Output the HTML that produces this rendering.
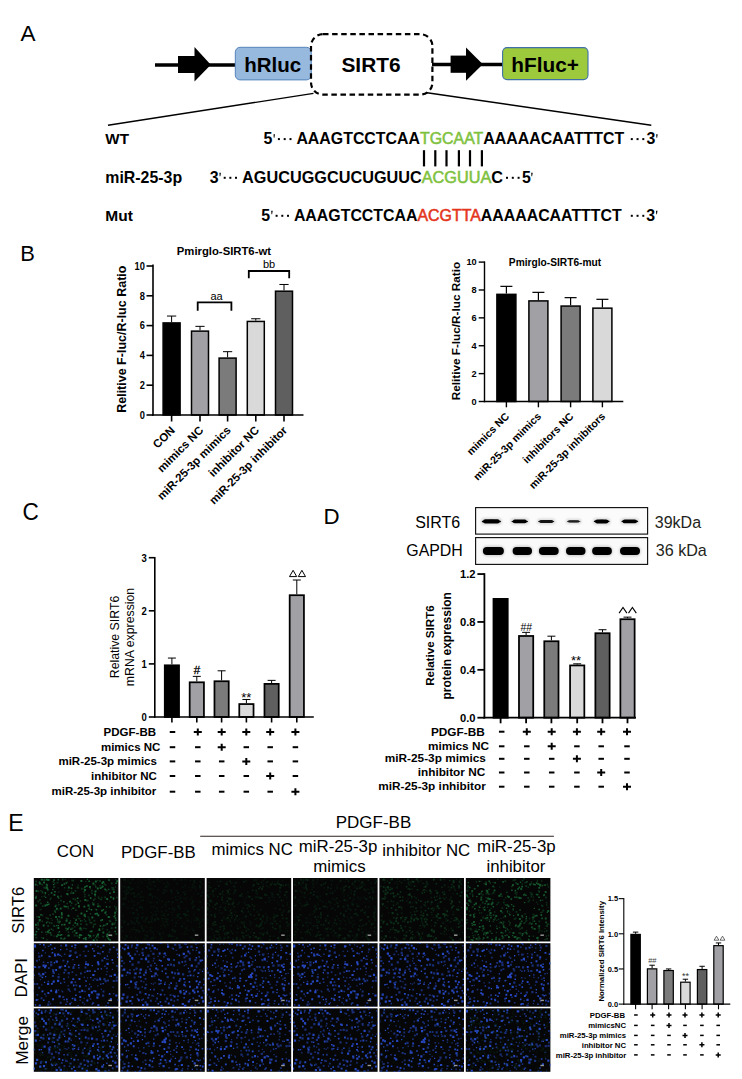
<!DOCTYPE html>
<html><head><meta charset="utf-8"><style>
html,body{margin:0;padding:0;background:#fff;}
body{width:742px;height:1079px;overflow:hidden;}
svg{display:block;}
text{font-family:"Liberation Sans",sans-serif;}
</style></head><body>
<svg width="742" height="1079" viewBox="0 0 742 1079">
<text x="20.50" y="41.30" font-size="22.5" >A</text>
<line x1="155.00" y1="65.00" x2="235.00" y2="65.00" stroke="#000" stroke-width="3.5" />
<rect x="178" y="56" width="17" height="17" fill="#000"/>
<polygon points="194.5,47 210.8,64.8 194.5,81.5" fill="#000"/>
<rect x="235.3" y="47.3" width="76" height="32.6" rx="4.8" fill="#97b9de" stroke="#5584bb" stroke-width="1"/>
<text x="244.20" y="72.00" font-size="20.5" font-weight="bold" >hRluc</text>
<line x1="432.00" y1="64.50" x2="503.00" y2="64.50" stroke="#000" stroke-width="3.5" />
<rect x="450.6" y="55.6" width="16" height="17.2" fill="#000"/>
<polygon points="466,47.6 482.8,64.3 466,80.8" fill="#000"/>
<rect x="502.6" y="47.6" width="85.4" height="32" rx="4.5" fill="#9dca3c" stroke="#3f70a8" stroke-width="1.1"/>
<text x="511.30" y="71.70" font-size="20.8" font-weight="bold" >hFluc+</text>
<rect x="311" y="34.2" width="121.4" height="60.4" rx="12" fill="none" stroke="#000" stroke-width="2.2" stroke-dasharray="5.5 3.6"/>
<text x="341.40" y="72.10" font-size="20.9" font-weight="bold" >SIRT6</text>
<line x1="108.00" y1="125.30" x2="313.50" y2="93.40" stroke="#000" stroke-width="1.4" />
<line x1="427.00" y1="92.70" x2="651.30" y2="125.30" stroke="#000" stroke-width="1.4" />
<text x="105.30" y="144.40" font-size="15.2" font-weight="bold" >WT</text>
<text x="105.30" y="183.00" font-size="15.9" font-weight="bold" >miR-25-3p</text>
<text x="105.30" y="220.90" font-size="15.5" font-weight="bold" >Mut</text>
<text x="263.60" y="144.40" font-size="15.9" font-weight="bold" >5</text>
<path d="M273.50 134.20h1.5l-0.55 3.5h-0.7z" fill="#000"/>
<rect x="277.90" y="138.10" width="2" height="2" fill="#000"/>
<rect x="283.70" y="138.10" width="2" height="2" fill="#000"/>
<rect x="289.50" y="138.10" width="2" height="2" fill="#000"/>
<text x="296.4" y="144.4" font-size="15.9" font-weight="bold">AAAGTCCTCAA<tspan fill="#80c240" style="color:#80c240" font-weight="normal" stroke-width="0.55" stroke="currentColor">TGCAAT</tspan>AAAAACAATTTCT</text>
<rect x="630.80" y="138.10" width="2" height="2" fill="#000"/>
<rect x="636.55" y="138.10" width="2" height="2" fill="#000"/>
<rect x="642.30" y="138.10" width="2" height="2" fill="#000"/>
<text x="646.40" y="144.40" font-size="15.9" font-weight="bold" >3</text>
<path d="M656.20 134.20h1.5l-0.55 3.5h-0.7z" fill="#000"/>
<rect x="422.90" y="150.2" width="2.2" height="16.2" fill="#000"/>
<rect x="434.20" y="150.2" width="2.2" height="16.2" fill="#000"/>
<rect x="445.40" y="150.2" width="2.2" height="16.2" fill="#000"/>
<rect x="457.80" y="150.2" width="2.2" height="16.2" fill="#000"/>
<rect x="468.90" y="150.2" width="2.2" height="16.2" fill="#000"/>
<rect x="480.80" y="150.2" width="2.2" height="16.2" fill="#000"/>
<text x="209.80" y="183.00" font-size="15.9" font-weight="bold" >3</text>
<path d="M219.40 172.80h1.5l-0.55 3.5h-0.7z" fill="#000"/>
<rect x="223.70" y="176.80" width="2" height="2" fill="#000"/>
<rect x="229.35" y="176.80" width="2" height="2" fill="#000"/>
<rect x="235.00" y="176.80" width="2" height="2" fill="#000"/>
<text x="242.1" y="183" font-size="16.25" font-weight="bold">AGUCUGGCUCUGUUC<tspan fill="#80c240" style="color:#80c240" font-weight="normal" stroke-width="0.55" stroke="currentColor">ACGUUA</tspan>C</text>
<rect x="506.00" y="176.80" width="2" height="2" fill="#000"/>
<rect x="511.80" y="176.80" width="2" height="2" fill="#000"/>
<rect x="517.60" y="176.80" width="2" height="2" fill="#000"/>
<text x="522.10" y="183.00" font-size="15.9" font-weight="bold" >5</text>
<path d="M531.20 172.80h1.5l-0.55 3.5h-0.7z" fill="#000"/>
<text x="261.30" y="220.90" font-size="15.9" font-weight="bold" >5</text>
<path d="M271.20 210.70h1.5l-0.55 3.5h-0.7z" fill="#000"/>
<rect x="275.60" y="214.80" width="2" height="2" fill="#000"/>
<rect x="281.30" y="214.80" width="2" height="2" fill="#000"/>
<rect x="287.00" y="214.80" width="2" height="2" fill="#000"/>
<text x="293.9" y="220.9" font-size="15.9" font-weight="bold">AAAGTCCTCAA<tspan fill="#e4351c" style="color:#e4351c" font-weight="normal" stroke-width="0.55" stroke="currentColor">ACGTTA</tspan>AAAAACAATTTCT</text>
<rect x="630.80" y="214.80" width="2" height="2" fill="#000"/>
<rect x="636.55" y="214.80" width="2" height="2" fill="#000"/>
<rect x="642.30" y="214.80" width="2" height="2" fill="#000"/>
<text x="646.20" y="220.90" font-size="15.9" font-weight="bold" >3</text>
<path d="M656.00 210.70h1.5l-0.55 3.5h-0.7z" fill="#000"/>
<g>
<text x="0" y="0" transform="translate(20.30,261.20) scale(1.02,1)" font-size="21.5" >B</text>
<line x1="171.60" y1="322.17" x2="171.60" y2="316.06" stroke="#000" stroke-width="1.0" />
<line x1="166.97" y1="316.06" x2="176.22" y2="316.06" stroke="#000" stroke-width="1.0" />
<rect x="163.10" y="322.92" width="17.00" height="92.08" fill="#000" stroke="#000" stroke-width="1.5"/>
<line x1="200.00" y1="330.37" x2="200.00" y2="326.35" stroke="#000" stroke-width="1.0" />
<line x1="195.38" y1="326.35" x2="204.62" y2="326.35" stroke="#000" stroke-width="1.0" />
<rect x="191.50" y="331.12" width="17.00" height="83.88" fill="#a0a0a5" stroke="#000" stroke-width="1.5"/>
<line x1="227.60" y1="357.34" x2="227.60" y2="351.68" stroke="#000" stroke-width="1.0" />
<line x1="222.97" y1="351.68" x2="232.22" y2="351.68" stroke="#000" stroke-width="1.0" />
<rect x="219.10" y="358.09" width="17.00" height="56.91" fill="#7b7b7b" stroke="#000" stroke-width="1.5"/>
<line x1="255.80" y1="320.68" x2="255.80" y2="318.75" stroke="#000" stroke-width="1.0" />
<line x1="251.18" y1="318.75" x2="260.43" y2="318.75" stroke="#000" stroke-width="1.0" />
<rect x="247.30" y="321.43" width="17.00" height="93.57" fill="#d9d9d9" stroke="#000" stroke-width="1.5"/>
<line x1="284.00" y1="290.44" x2="284.00" y2="284.48" stroke="#000" stroke-width="1.0" />
<line x1="279.38" y1="284.48" x2="288.62" y2="284.48" stroke="#000" stroke-width="1.0" />
<rect x="275.50" y="291.19" width="17.00" height="123.81" fill="#5f5f5f" stroke="#000" stroke-width="1.5"/>
<line x1="153.00" y1="264.40" x2="153.00" y2="415.80" stroke="#000" stroke-width="1.6" />
<line x1="152.20" y1="415.00" x2="303.50" y2="415.00" stroke="#000" stroke-width="1.6" />
<line x1="146.50" y1="415.00" x2="153.00" y2="415.00" stroke="#000" stroke-width="1.6" />
<text x="0" y="0" transform="translate(144.80,418.89) scale(0.86,1)" font-size="10.8" font-weight="bold" text-anchor="end" >0</text>
<line x1="146.50" y1="385.20" x2="153.00" y2="385.20" stroke="#000" stroke-width="1.6" />
<text x="0" y="0" transform="translate(144.80,389.09) scale(0.86,1)" font-size="10.8" font-weight="bold" text-anchor="end" >2</text>
<line x1="146.50" y1="355.40" x2="153.00" y2="355.40" stroke="#000" stroke-width="1.6" />
<text x="0" y="0" transform="translate(144.80,359.29) scale(0.86,1)" font-size="10.8" font-weight="bold" text-anchor="end" >4</text>
<line x1="146.50" y1="325.60" x2="153.00" y2="325.60" stroke="#000" stroke-width="1.6" />
<text x="0" y="0" transform="translate(144.80,329.49) scale(0.86,1)" font-size="10.8" font-weight="bold" text-anchor="end" >6</text>
<line x1="146.50" y1="295.80" x2="153.00" y2="295.80" stroke="#000" stroke-width="1.6" />
<text x="0" y="0" transform="translate(144.80,299.69) scale(0.86,1)" font-size="10.8" font-weight="bold" text-anchor="end" >8</text>
<line x1="146.50" y1="266.00" x2="153.00" y2="266.00" stroke="#000" stroke-width="1.6" />
<text x="0" y="0" transform="translate(144.80,269.89) scale(0.86,1)" font-size="10.8" font-weight="bold" text-anchor="end" >10</text>
<line x1="171.60" y1="415.00" x2="171.60" y2="421.50" stroke="#000" stroke-width="1.6" />
<line x1="200.00" y1="415.00" x2="200.00" y2="421.50" stroke="#000" stroke-width="1.6" />
<line x1="227.60" y1="415.00" x2="227.60" y2="421.50" stroke="#000" stroke-width="1.6" />
<line x1="255.80" y1="415.00" x2="255.80" y2="421.50" stroke="#000" stroke-width="1.6" />
<line x1="284.00" y1="415.00" x2="284.00" y2="421.50" stroke="#000" stroke-width="1.6" />
<text x="223.90" y="254.80" font-size="11.3" font-weight="bold" text-anchor="middle" >Pmirglo-SIRT6-wt</text>
<text x="0" y="0" font-size="12.5" font-weight="bold" text-anchor="middle" transform="translate(125.5,339.2) rotate(-90)">Relitive F-luc/R-luc Ratio</text>
<polyline points="197.7,310.7 197.7,302.4 231.4,302.4 231.4,310.7" fill="none" stroke="#000" stroke-width="1.8"/>
<text x="216.50" y="299.70" font-size="11" text-anchor="middle" >aa</text>
<polyline points="248.8,278.3 248.8,271 289.2,271 289.2,278.3" fill="none" stroke="#000" stroke-width="1.8"/>
<text x="269.00" y="268.30" font-size="11" text-anchor="middle" >bb</text>
<text x="0" y="0" font-size="11.5" font-weight="bold" text-anchor="end" transform="translate(175.6,431.0) rotate(-45)">CON</text>
<text x="0" y="0" font-size="11.5" font-weight="bold" text-anchor="end" transform="translate(204.0,431.0) rotate(-45)">mimics NC</text>
<text x="0" y="0" font-size="11.5" font-weight="bold" text-anchor="end" transform="translate(231.6,431.0) rotate(-45)">miR-25-3p mimics</text>
<text x="0" y="0" font-size="11.5" font-weight="bold" text-anchor="end" transform="translate(259.8,431.0) rotate(-45)">inhibitor NC</text>
<text x="0" y="0" font-size="11.5" font-weight="bold" text-anchor="end" transform="translate(288.0,431.0) rotate(-45)">miR-25-3p inhibitor</text>
</g>
<line x1="506.40" y1="293.60" x2="506.40" y2="286.36" stroke="#000" stroke-width="1.2" />
<line x1="500.40" y1="286.36" x2="512.40" y2="286.36" stroke="#000" stroke-width="1.2" />
<rect x="496.90" y="294.35" width="19.00" height="107.15" fill="#000" stroke="#000" stroke-width="1.5"/>
<line x1="538.40" y1="300.16" x2="538.40" y2="292.35" stroke="#000" stroke-width="1.2" />
<line x1="532.40" y1="292.35" x2="544.40" y2="292.35" stroke="#000" stroke-width="1.2" />
<rect x="528.90" y="300.91" width="19.00" height="100.59" fill="#a0a0a5" stroke="#000" stroke-width="1.5"/>
<line x1="570.60" y1="305.31" x2="570.60" y2="297.65" stroke="#000" stroke-width="1.2" />
<line x1="564.60" y1="297.65" x2="576.60" y2="297.65" stroke="#000" stroke-width="1.2" />
<rect x="561.10" y="306.06" width="19.00" height="95.44" fill="#7b7b7b" stroke="#000" stroke-width="1.5"/>
<line x1="602.40" y1="307.40" x2="602.40" y2="299.32" stroke="#000" stroke-width="1.2" />
<line x1="596.40" y1="299.32" x2="608.40" y2="299.32" stroke="#000" stroke-width="1.2" />
<rect x="592.90" y="308.15" width="19.00" height="93.34" fill="#d9d9d9" stroke="#000" stroke-width="1.5"/>
<line x1="484.50" y1="261.40" x2="484.50" y2="402.20" stroke="#000" stroke-width="1.4" />
<line x1="483.80" y1="401.50" x2="623.30" y2="401.50" stroke="#000" stroke-width="1.4" />
<line x1="478.70" y1="401.50" x2="484.50" y2="401.50" stroke="#000" stroke-width="1.4" />
<text x="476.70" y="404.81" font-size="9.2" font-weight="bold" text-anchor="end" >0</text>
<line x1="478.70" y1="373.62" x2="484.50" y2="373.62" stroke="#000" stroke-width="1.4" />
<text x="476.70" y="376.93" font-size="9.2" font-weight="bold" text-anchor="end" >2</text>
<line x1="478.70" y1="345.74" x2="484.50" y2="345.74" stroke="#000" stroke-width="1.4" />
<text x="476.70" y="349.05" font-size="9.2" font-weight="bold" text-anchor="end" >4</text>
<line x1="478.70" y1="317.86" x2="484.50" y2="317.86" stroke="#000" stroke-width="1.4" />
<text x="476.70" y="321.17" font-size="9.2" font-weight="bold" text-anchor="end" >6</text>
<line x1="478.70" y1="289.98" x2="484.50" y2="289.98" stroke="#000" stroke-width="1.4" />
<text x="476.70" y="293.29" font-size="9.2" font-weight="bold" text-anchor="end" >8</text>
<line x1="478.70" y1="262.10" x2="484.50" y2="262.10" stroke="#000" stroke-width="1.4" />
<text x="476.70" y="265.41" font-size="9.2" font-weight="bold" text-anchor="end" >10</text>
<line x1="506.40" y1="401.50" x2="506.40" y2="407.30" stroke="#000" stroke-width="1.4" />
<line x1="538.40" y1="401.50" x2="538.40" y2="407.30" stroke="#000" stroke-width="1.4" />
<line x1="570.60" y1="401.50" x2="570.60" y2="407.30" stroke="#000" stroke-width="1.4" />
<line x1="602.40" y1="401.50" x2="602.40" y2="407.30" stroke="#000" stroke-width="1.4" />
<text x="555.00" y="265.60" font-size="10.2" font-weight="bold" text-anchor="middle" >Pmirglo-SIRT6-mut</text>
<text x="0" y="0" font-size="11.75" font-weight="bold" text-anchor="middle" transform="translate(459.9,331.1) rotate(-90)">Relitive F-luc/R-luc Ratio</text>
<text x="0" y="0" font-size="10.6" font-weight="bold" text-anchor="end" transform="translate(509.9,417.0) rotate(-45)">mimics NC</text>
<text x="0" y="0" font-size="10.6" font-weight="bold" text-anchor="end" transform="translate(541.9,417.0) rotate(-45)">miR-25-3p mimics</text>
<text x="0" y="0" font-size="10.6" font-weight="bold" text-anchor="end" transform="translate(574.1,417.0) rotate(-45)">inhibitors NC</text>
<text x="0" y="0" font-size="10.6" font-weight="bold" text-anchor="end" transform="translate(605.9,417.0) rotate(-45)">miR-25-3p inhibitors</text>
<text x="0" y="0" transform="translate(22.60,520.00) scale(0.96,1)" font-size="23.5" >C</text>
<line x1="171.90" y1="664.43" x2="171.90" y2="658.06" stroke="#000" stroke-width="1.0" />
<line x1="167.90" y1="658.06" x2="175.90" y2="658.06" stroke="#000" stroke-width="1.0" />
<rect x="164.78" y="665.31" width="14.25" height="51.69" fill="#000" stroke="#000" stroke-width="1.75"/>
<line x1="196.80" y1="681.42" x2="196.80" y2="676.38" stroke="#000" stroke-width="1.0" />
<line x1="192.80" y1="676.38" x2="200.80" y2="676.38" stroke="#000" stroke-width="1.0" />
<rect x="189.68" y="682.30" width="14.25" height="34.70" fill="#a0a0a5" stroke="#000" stroke-width="1.75"/>
<line x1="221.60" y1="680.36" x2="221.60" y2="670.80" stroke="#000" stroke-width="1.0" />
<line x1="217.60" y1="670.80" x2="225.60" y2="670.80" stroke="#000" stroke-width="1.0" />
<rect x="214.47" y="681.24" width="14.25" height="35.76" fill="#7b7b7b" stroke="#000" stroke-width="1.75"/>
<line x1="246.40" y1="703.19" x2="246.40" y2="699.48" stroke="#000" stroke-width="1.0" />
<line x1="242.40" y1="699.48" x2="250.40" y2="699.48" stroke="#000" stroke-width="1.0" />
<rect x="239.28" y="704.07" width="14.25" height="12.93" fill="#d9d9d9" stroke="#000" stroke-width="1.75"/>
<line x1="271.60" y1="683.02" x2="271.60" y2="680.36" stroke="#000" stroke-width="1.0" />
<line x1="267.60" y1="680.36" x2="275.60" y2="680.36" stroke="#000" stroke-width="1.0" />
<rect x="264.48" y="683.89" width="14.25" height="33.11" fill="#5f5f5f" stroke="#000" stroke-width="1.75"/>
<line x1="296.80" y1="594.34" x2="296.80" y2="580.00" stroke="#000" stroke-width="1.0" />
<line x1="292.80" y1="580.00" x2="300.80" y2="580.00" stroke="#000" stroke-width="1.0" />
<rect x="289.68" y="595.21" width="14.25" height="121.79" fill="#a0a0a5" stroke="#000" stroke-width="1.75"/>
<line x1="154.80" y1="557.00" x2="154.80" y2="717.80" stroke="#000" stroke-width="1.6" />
<line x1="154.00" y1="717.00" x2="313.80" y2="717.00" stroke="#000" stroke-width="1.6" />
<line x1="148.80" y1="717.00" x2="154.80" y2="717.00" stroke="#000" stroke-width="1.6" />
<text x="0" y="0" transform="translate(146.80,720.89) scale(0.88,1)" font-size="10.8" font-weight="bold" text-anchor="end" >0</text>
<line x1="148.80" y1="663.90" x2="154.80" y2="663.90" stroke="#000" stroke-width="1.6" />
<text x="0" y="0" transform="translate(146.80,667.79) scale(0.88,1)" font-size="10.8" font-weight="bold" text-anchor="end" >1</text>
<line x1="148.80" y1="610.80" x2="154.80" y2="610.80" stroke="#000" stroke-width="1.6" />
<text x="0" y="0" transform="translate(146.80,614.69) scale(0.88,1)" font-size="10.8" font-weight="bold" text-anchor="end" >2</text>
<line x1="148.80" y1="557.70" x2="154.80" y2="557.70" stroke="#000" stroke-width="1.6" />
<text x="0" y="0" transform="translate(146.80,561.59) scale(0.88,1)" font-size="10.8" font-weight="bold" text-anchor="end" >3</text>
<line x1="171.90" y1="717.00" x2="171.90" y2="722.50" stroke="#000" stroke-width="1.6" />
<line x1="196.80" y1="717.00" x2="196.80" y2="722.50" stroke="#000" stroke-width="1.6" />
<line x1="221.60" y1="717.00" x2="221.60" y2="722.50" stroke="#000" stroke-width="1.6" />
<line x1="246.40" y1="717.00" x2="246.40" y2="722.50" stroke="#000" stroke-width="1.6" />
<line x1="271.60" y1="717.00" x2="271.60" y2="722.50" stroke="#000" stroke-width="1.6" />
<line x1="296.80" y1="717.00" x2="296.80" y2="722.50" stroke="#000" stroke-width="1.6" />
<text x="197.00" y="674.00" font-size="11.5" text-anchor="middle" stroke="#000" stroke-width="0.3">#</text>
<text x="246.30" y="701.50" font-size="13" text-anchor="middle" >**</text>
<polygon points="289.50,576.60 293.10,570.30 296.70,576.60" fill="none" stroke="#000" stroke-width="1.0" stroke-linejoin="miter"/>
<polygon points="298.30,576.60 301.90,570.30 305.50,576.60" fill="none" stroke="#000" stroke-width="1.0" stroke-linejoin="miter"/>
<text x="0" y="0" font-size="12.3" text-anchor="middle" transform="translate(119.3,637) rotate(-90)">Relative SIRT6</text>
<text x="0" y="0" font-size="12.3" text-anchor="middle" transform="translate(134.1,637) rotate(-90)">mRNA expression</text>
<text x="156.00" y="736.00" font-size="11.5" font-weight="bold" text-anchor="end" >PDGF-BB</text>
<text x="160.40" y="750.90" font-size="11.5" font-weight="bold" text-anchor="end" >mimics NC</text>
<text x="156.90" y="765.40" font-size="11.5" font-weight="bold" text-anchor="end" >miR-25-3p mimics</text>
<text x="156.90" y="780.20" font-size="11.5" font-weight="bold" text-anchor="end" >inhibitor NC</text>
<text x="156.30" y="795.20" font-size="11.5" font-weight="bold" text-anchor="end" >miR-25-3p inhibitor</text>
<rect x="169.75" y="731.00" width="5.5" height="2" fill="#000"/>
<path d="M193.80 731.00h8v2h-8zM196.80 728.50h2v7h-2z" fill="#000"/>
<path d="M217.70 731.00h8v2h-8zM220.70 728.50h2v7h-2z" fill="#000"/>
<path d="M242.30 731.00h8v2h-8zM245.30 728.50h2v7h-2z" fill="#000"/>
<path d="M266.20 731.00h8v2h-8zM269.20 728.50h2v7h-2z" fill="#000"/>
<path d="M291.40 731.00h8v2h-8zM294.40 728.50h2v7h-2z" fill="#000"/>
<rect x="169.75" y="746.20" width="5.5" height="2" fill="#000"/>
<rect x="195.05" y="746.20" width="5.5" height="2" fill="#000"/>
<path d="M217.70 746.20h8v2h-8zM220.70 743.70h2v7h-2z" fill="#000"/>
<rect x="243.55" y="746.20" width="5.5" height="2" fill="#000"/>
<rect x="267.45" y="746.20" width="5.5" height="2" fill="#000"/>
<rect x="292.65" y="746.20" width="5.5" height="2" fill="#000"/>
<rect x="169.75" y="760.40" width="5.5" height="2" fill="#000"/>
<rect x="195.05" y="760.40" width="5.5" height="2" fill="#000"/>
<rect x="218.95" y="760.40" width="5.5" height="2" fill="#000"/>
<path d="M242.30 760.40h8v2h-8zM245.30 757.90h2v7h-2z" fill="#000"/>
<rect x="267.45" y="760.40" width="5.5" height="2" fill="#000"/>
<rect x="292.65" y="760.40" width="5.5" height="2" fill="#000"/>
<rect x="169.75" y="775.00" width="5.5" height="2" fill="#000"/>
<rect x="195.05" y="775.00" width="5.5" height="2" fill="#000"/>
<rect x="218.95" y="775.00" width="5.5" height="2" fill="#000"/>
<rect x="243.55" y="775.00" width="5.5" height="2" fill="#000"/>
<path d="M266.20 775.00h8v2h-8zM269.20 772.50h2v7h-2z" fill="#000"/>
<rect x="292.65" y="775.00" width="5.5" height="2" fill="#000"/>
<rect x="169.75" y="790.70" width="5.5" height="2" fill="#000"/>
<rect x="195.05" y="790.70" width="5.5" height="2" fill="#000"/>
<rect x="218.95" y="790.70" width="5.5" height="2" fill="#000"/>
<rect x="243.55" y="790.70" width="5.5" height="2" fill="#000"/>
<rect x="267.45" y="790.70" width="5.5" height="2" fill="#000"/>
<path d="M291.40 790.70h8v2h-8zM294.40 788.20h2v7h-2z" fill="#000"/>
<text x="0" y="0" transform="translate(323.60,524.40) scale(0.97,1)" font-size="23" >D</text>
<text x="460.20" y="528.00" font-size="16" text-anchor="end" >SIRT6</text>
<text x="462.80" y="555.60" font-size="15.9" text-anchor="end" >GAPDH</text>
<text x="654.80" y="527.90" font-size="16" fill="#231f20" >39kDa</text>
<text x="655.80" y="555.70" font-size="16.1" fill="#231f20" >36 kDa</text>
<rect x="475.6" y="507.6" width="172" height="26.5" fill="#fbfbfb" stroke="#111" stroke-width="1.15"/>
<rect x="475.6" y="537.6" width="172" height="26.8" fill="#f9f9f9" stroke="#111" stroke-width="1.15"/>
<defs><filter id="bl" x="-30%" y="-100%" width="160%" height="300%"><feGaussianBlur stdDeviation="0.75"/></filter><filter id="bl2" x="-30%" y="-100%" width="160%" height="300%"><feGaussianBlur stdDeviation="1.2"/></filter></defs>
<rect x="480.7" y="517.80" width="21.4" height="7.20" rx="3.60" fill="#000" opacity="0.12" filter="url(#bl2)"/>
<g opacity="1" filter="url(#bl)"><ellipse cx="491.4" cy="521.4" rx="9.7" ry="1.68" fill="#000"/><rect x="483.2" y="519.30" width="16.4" height="4.20" rx="2.10" fill="#000"/></g>
<rect x="510.4" y="518.10" width="18.7" height="6.60" rx="3.30" fill="#000" opacity="0.12" filter="url(#bl2)"/>
<g opacity="1" filter="url(#bl)"><ellipse cx="519.8" cy="521.4" rx="8.4" ry="1.44" fill="#000"/><rect x="512.9" y="519.60" width="13.7" height="3.60" rx="1.80" fill="#000"/></g>
<rect x="537.0" y="518.40" width="18.5" height="6.00" rx="3.00" fill="#000" opacity="0.12" filter="url(#bl2)"/>
<g opacity="0.9" filter="url(#bl)"><ellipse cx="546.2" cy="521.4" rx="8.2" ry="1.20" fill="#000"/><rect x="539.5" y="519.90" width="13.5" height="3.00" rx="1.50" fill="#000"/></g>
<rect x="565.7" y="518.70" width="15.9" height="5.40" rx="2.70" fill="#000" opacity="0.12" filter="url(#bl2)"/>
<g opacity="0.85" filter="url(#bl)"><ellipse cx="573.7" cy="521.4" rx="6.9" ry="0.96" fill="#000"/><rect x="568.2" y="520.20" width="10.9" height="2.40" rx="1.20" fill="#000"/></g>
<rect x="592.7" y="517.90" width="18.0" height="7.00" rx="3.50" fill="#000" opacity="0.12" filter="url(#bl2)"/>
<g opacity="1" filter="url(#bl)"><ellipse cx="601.7" cy="521.4" rx="8.0" ry="1.60" fill="#000"/><rect x="595.2" y="519.40" width="13.0" height="4.00" rx="2.00" fill="#000"/></g>
<rect x="620.3" y="518.00" width="18.9" height="6.80" rx="3.40" fill="#000" opacity="0.12" filter="url(#bl2)"/>
<g opacity="1" filter="url(#bl)"><ellipse cx="629.8" cy="521.4" rx="8.5" ry="1.52" fill="#000"/><rect x="622.8" y="519.50" width="13.9" height="3.80" rx="1.90" fill="#000"/></g>
<rect x="481.9" y="545.5" width="23.0" height="11" rx="5.5" fill="#000" opacity="0.15" filter="url(#bl2)"/>
<rect x="482.9" y="547" width="21.0" height="8" rx="4" fill="#000" filter="url(#bl)"/>
<rect x="511.6" y="545.5" width="21.4" height="11" rx="5.5" fill="#000" opacity="0.15" filter="url(#bl2)"/>
<rect x="512.6" y="547" width="19.4" height="8" rx="4" fill="#000" filter="url(#bl)"/>
<rect x="537.9" y="545.5" width="21.8" height="11" rx="5.5" fill="#000" opacity="0.15" filter="url(#bl2)"/>
<rect x="538.9" y="547" width="19.8" height="8" rx="4" fill="#000" filter="url(#bl)"/>
<rect x="565.0" y="545.5" width="21.5" height="11" rx="5.5" fill="#000" opacity="0.15" filter="url(#bl2)"/>
<rect x="566.0" y="547" width="19.5" height="8" rx="4" fill="#000" filter="url(#bl)"/>
<rect x="591.1" y="545.5" width="21.8" height="11" rx="5.5" fill="#000" opacity="0.15" filter="url(#bl2)"/>
<rect x="592.1" y="547" width="19.8" height="8" rx="4" fill="#000" filter="url(#bl)"/>
<rect x="619.0" y="545.5" width="22.0" height="11" rx="5.5" fill="#000" opacity="0.15" filter="url(#bl2)"/>
<rect x="620.0" y="547" width="20.0" height="8" rx="4" fill="#000" filter="url(#bl)"/>
<rect x="493.48" y="598.88" width="14.25" height="118.83" fill="#000" stroke="#000" stroke-width="1.75"/>
<line x1="526.10" y1="635.11" x2="526.10" y2="632.35" stroke="#000" stroke-width="1.0" />
<line x1="522.10" y1="632.35" x2="530.10" y2="632.35" stroke="#000" stroke-width="1.0" />
<rect x="518.98" y="635.98" width="14.25" height="81.72" fill="#a0a0a5" stroke="#000" stroke-width="1.75"/>
<line x1="551.40" y1="640.37" x2="551.40" y2="636.18" stroke="#000" stroke-width="1.0" />
<line x1="547.40" y1="636.18" x2="555.40" y2="636.18" stroke="#000" stroke-width="1.0" />
<rect x="544.27" y="641.25" width="14.25" height="76.45" fill="#7b7b7b" stroke="#000" stroke-width="1.75"/>
<line x1="577.20" y1="664.55" x2="577.20" y2="663.84" stroke="#000" stroke-width="1.0" />
<line x1="573.20" y1="663.84" x2="581.20" y2="663.84" stroke="#000" stroke-width="1.0" />
<rect x="570.08" y="665.43" width="14.25" height="52.27" fill="#d9d9d9" stroke="#000" stroke-width="1.75"/>
<line x1="602.50" y1="632.35" x2="602.50" y2="629.72" stroke="#000" stroke-width="1.0" />
<line x1="598.50" y1="629.72" x2="606.50" y2="629.72" stroke="#000" stroke-width="1.0" />
<rect x="595.38" y="633.23" width="14.25" height="84.47" fill="#5f5f5f" stroke="#000" stroke-width="1.75"/>
<line x1="627.50" y1="618.35" x2="627.50" y2="617.15" stroke="#000" stroke-width="1.0" />
<line x1="623.50" y1="617.15" x2="631.50" y2="617.15" stroke="#000" stroke-width="1.0" />
<rect x="620.38" y="619.22" width="14.25" height="98.48" fill="#a0a0a5" stroke="#000" stroke-width="1.75"/>
<line x1="484.40" y1="573.20" x2="484.40" y2="718.60" stroke="#000" stroke-width="1.8" />
<line x1="483.50" y1="717.70" x2="636.00" y2="717.70" stroke="#000" stroke-width="1.8" />
<line x1="477.40" y1="717.70" x2="484.40" y2="717.70" stroke="#000" stroke-width="1.8" />
<text x="475.60" y="721.73" font-size="11.2" font-weight="bold" text-anchor="end" >0.0</text>
<line x1="477.40" y1="669.82" x2="484.40" y2="669.82" stroke="#000" stroke-width="1.8" />
<text x="475.60" y="673.85" font-size="11.2" font-weight="bold" text-anchor="end" >0.4</text>
<line x1="477.40" y1="621.94" x2="484.40" y2="621.94" stroke="#000" stroke-width="1.8" />
<text x="475.60" y="625.97" font-size="11.2" font-weight="bold" text-anchor="end" >0.8</text>
<line x1="477.40" y1="574.06" x2="484.40" y2="574.06" stroke="#000" stroke-width="1.8" />
<text x="475.60" y="578.09" font-size="11.2" font-weight="bold" text-anchor="end" >1.2</text>
<line x1="500.60" y1="717.70" x2="500.60" y2="723.30" stroke="#000" stroke-width="1.8" />
<line x1="526.10" y1="717.70" x2="526.10" y2="723.30" stroke="#000" stroke-width="1.8" />
<line x1="551.40" y1="717.70" x2="551.40" y2="723.30" stroke="#000" stroke-width="1.8" />
<line x1="577.20" y1="717.70" x2="577.20" y2="723.30" stroke="#000" stroke-width="1.8" />
<line x1="602.50" y1="717.70" x2="602.50" y2="723.30" stroke="#000" stroke-width="1.8" />
<line x1="627.50" y1="717.70" x2="627.50" y2="723.30" stroke="#000" stroke-width="1.8" />
<text x="526.30" y="630.60" font-size="10.5" text-anchor="middle" >##</text>
<text x="576.10" y="665.30" font-size="13" text-anchor="middle" >**</text>
<polyline points="619.10,613.10 623.00,607.50 626.90,613.10" fill="none" stroke="#000" stroke-width="1.1"/>
<polyline points="628.50,613.10 632.40,607.50 636.30,613.10" fill="none" stroke="#000" stroke-width="1.1"/>
<text x="0" y="0" font-size="11.6" font-weight="bold" text-anchor="middle" transform="translate(434.2,645.6) rotate(-90)">Relative SIRT6</text>
<text x="0" y="0" font-size="12" font-weight="bold" text-anchor="middle" transform="translate(451.1,645.8) rotate(-90)">protein expression</text>
<text x="484.70" y="735.80" font-size="11.8" font-weight="bold" text-anchor="end" >PDGF-BB</text>
<text x="489.00" y="749.80" font-size="11.8" font-weight="bold" text-anchor="end" >mimics NC</text>
<text x="485.80" y="762.40" font-size="11.8" font-weight="bold" text-anchor="end" >miR-25-3p mimics</text>
<text x="485.20" y="776.40" font-size="11.8" font-weight="bold" text-anchor="end" >inhibitor NC</text>
<text x="485.80" y="789.90" font-size="11.8" font-weight="bold" text-anchor="end" >miR-25-3p inhibitor</text>
<rect x="498.95" y="730.70" width="5.5" height="2" fill="#000"/>
<path d="M522.80 730.70h8v2h-8zM525.80 728.20h2v7h-2z" fill="#000"/>
<path d="M547.70 730.70h8v2h-8zM550.70 728.20h2v7h-2z" fill="#000"/>
<path d="M572.90 730.70h8v2h-8zM575.90 728.20h2v7h-2z" fill="#000"/>
<path d="M597.20 730.70h8v2h-8zM600.20 728.20h2v7h-2z" fill="#000"/>
<path d="M623.00 730.70h8v2h-8zM626.00 728.20h2v7h-2z" fill="#000"/>
<rect x="498.95" y="745.30" width="5.5" height="2" fill="#000"/>
<rect x="524.05" y="745.30" width="5.5" height="2" fill="#000"/>
<path d="M547.70 745.30h8v2h-8zM550.70 742.80h2v7h-2z" fill="#000"/>
<rect x="574.15" y="745.30" width="5.5" height="2" fill="#000"/>
<rect x="598.45" y="745.30" width="5.5" height="2" fill="#000"/>
<rect x="624.25" y="745.30" width="5.5" height="2" fill="#000"/>
<rect x="498.95" y="757.80" width="5.5" height="2" fill="#000"/>
<rect x="524.05" y="757.80" width="5.5" height="2" fill="#000"/>
<rect x="548.95" y="757.80" width="5.5" height="2" fill="#000"/>
<path d="M572.90 757.80h8v2h-8zM575.90 755.30h2v7h-2z" fill="#000"/>
<rect x="598.45" y="757.80" width="5.5" height="2" fill="#000"/>
<rect x="624.25" y="757.80" width="5.5" height="2" fill="#000"/>
<rect x="498.95" y="771.50" width="5.5" height="2" fill="#000"/>
<rect x="524.05" y="771.50" width="5.5" height="2" fill="#000"/>
<rect x="548.95" y="771.50" width="5.5" height="2" fill="#000"/>
<rect x="574.15" y="771.50" width="5.5" height="2" fill="#000"/>
<path d="M597.20 771.50h8v2h-8zM600.20 769.00h2v7h-2z" fill="#000"/>
<rect x="624.25" y="771.50" width="5.5" height="2" fill="#000"/>
<rect x="498.95" y="785.70" width="5.5" height="2" fill="#000"/>
<rect x="524.05" y="785.70" width="5.5" height="2" fill="#000"/>
<rect x="548.95" y="785.70" width="5.5" height="2" fill="#000"/>
<rect x="574.15" y="785.70" width="5.5" height="2" fill="#000"/>
<rect x="598.45" y="785.70" width="5.5" height="2" fill="#000"/>
<path d="M623.00 785.70h8v2h-8zM626.00 783.20h2v7h-2z" fill="#000"/>
<text x="8.20" y="830.80" font-size="23" >E</text>
<text x="0" y="0" transform="translate(75.50,857.00) scale(1.04,1)" font-size="16.2" text-anchor="middle" >CON</text>
<text x="0" y="0" transform="translate(158.30,858.00) scale(1.04,1)" font-size="16.2" text-anchor="middle" >PDGF-BB</text>
<text x="0" y="0" transform="translate(252.20,855.00) scale(1.04,1)" font-size="16.2" text-anchor="middle" >mimics NC</text>
<text x="0" y="0" transform="translate(338.00,852.40) scale(1.04,1)" font-size="16.2" text-anchor="middle" >miR-25-3p</text>
<text x="0" y="0" transform="translate(339.50,872.30) scale(1.04,1)" font-size="16.2" text-anchor="middle" >mimics</text>
<text x="0" y="0" transform="translate(426.30,856.20) scale(1.04,1)" font-size="16.2" text-anchor="middle" >inhibitor NC</text>
<text x="0" y="0" transform="translate(516.40,852.40) scale(1.04,1)" font-size="16.2" text-anchor="middle" >miR-25-3p</text>
<text x="0" y="0" transform="translate(515.90,872.30) scale(1.04,1)" font-size="16.2" text-anchor="middle" >inhibitor</text>
<text x="0" y="0" transform="translate(373.50,828.00) scale(1.05,1)" font-size="16.2" text-anchor="middle" >PDGF-BB</text>
<line x1="200.20" y1="836.20" x2="553.90" y2="836.20" stroke="#2b2220" stroke-width="1.1" />
<text x="0" y="0" font-size="16" text-anchor="middle" transform="translate(23.6,910.3) rotate(-90) scale(1.045,1)">SIRT6</text>
<text x="0" y="0" font-size="16" text-anchor="middle" transform="translate(26.9,977.7) rotate(-90) scale(1.06,1)">DAPI</text>
<text x="0" y="0" font-size="16" text-anchor="middle" transform="translate(27.8,1040.4) rotate(-90) scale(1.08,1)">Merge</text>
<defs><filter id="mb" x="0" y="0" width="100%" height="100%"><feGaussianBlur stdDeviation="0.45"/></filter>
<g id="dp0"><path d="M14.0 2.3h1.6v1.6h-1.6zM26.5 1.6h1.6v1.6h-1.6zM29.4 -1.1h1.6v1.6h-1.6zM55.9 0.6h1.9v1.9h-1.9zM60.9 1.1h1.3v1.3h-1.3zM74.9 0.2h1.3v1.3h-1.3zM0.1 2.6h2.2v2.2h-2.2zM10.7 3.2h1.3v1.3h-1.3zM32.1 5.3h1.6v1.6h-1.6zM40.4 3.5h1.9v1.9h-1.9zM52.5 2.4h1.3v1.3h-1.3zM63.4 2.5h1.6v1.6h-1.6zM66.4 3.8h1.6v1.6h-1.6zM75.1 5.2h2.2v2.2h-2.2zM82.1 5.4h2.2v2.2h-2.2zM-1.2 6.9h1.6v1.6h-1.6zM4.2 9.4h1.3v1.3h-1.3zM10.9 9.0h1.3v1.3h-1.3zM30.1 10.3h1.6v1.6h-1.6zM35.6 6.8h2.2v2.2h-2.2zM40.7 8.4h2.2v2.2h-2.2zM49.5 7.5h1.3v1.3h-1.3zM53.9 7.4h1.3v1.3h-1.3zM59.3 6.9h1.9v1.9h-1.9zM65.3 9.6h1.6v1.6h-1.6zM74.8 8.3h1.3v1.3h-1.3zM4.4 12.3h2.2v2.2h-2.2zM14.3 12.2h1.9v1.9h-1.9zM27.1 12.6h1.3v1.3h-1.3zM36.6 11.2h1.6v1.6h-1.6zM45.5 11.3h1.6v1.6h-1.6zM50.7 11.7h2.2v2.2h-2.2zM2.2 16.6h1.9v1.9h-1.9zM4.9 15.9h1.3v1.3h-1.3zM9.0 18.3h1.6v1.6h-1.6zM16.3 18.0h2.2v2.2h-2.2zM28.7 16.5h1.9v1.9h-1.9zM38.5 15.8h1.3v1.3h-1.3zM51.4 17.9h1.6v1.6h-1.6zM67.4 16.2h2.2v2.2h-2.2zM72.0 15.2h1.3v1.3h-1.3zM73.6 15.6h1.3v1.3h-1.3zM4.1 22.8h2.2v2.2h-2.2zM16.3 20.9h2.2v2.2h-2.2zM26.6 22.5h1.9v1.9h-1.9zM32.4 20.0h1.3v1.3h-1.3zM39.1 22.8h1.6v1.6h-1.6zM70.3 22.3h1.6v1.6h-1.6zM82.1 21.8h1.9v1.9h-1.9zM5.4 22.9h1.3v1.3h-1.3zM14.1 24.0h1.9v1.9h-1.9zM18.2 25.8h2.2v2.2h-2.2zM30.4 25.8h2.2v2.2h-2.2zM34.1 22.9h1.9v1.9h-1.9zM38.5 23.6h2.2v2.2h-2.2zM44.2 23.7h1.6v1.6h-1.6zM50.7 23.3h1.9v1.9h-1.9zM55.2 26.9h1.9v1.9h-1.9zM63.3 24.9h1.9v1.9h-1.9zM72.1 24.2h1.9v1.9h-1.9zM78.0 25.6h1.3v1.3h-1.3zM83.9 24.1h2.2v2.2h-2.2zM4.2 29.5h2.2v2.2h-2.2zM10.8 28.5h1.6v1.6h-1.6zM18.9 28.6h2.2v2.2h-2.2zM24.3 30.6h1.3v1.3h-1.3zM33.8 28.8h2.2v2.2h-2.2zM37.8 28.1h1.6v1.6h-1.6zM41.7 31.0h1.6v1.6h-1.6zM46.2 29.3h1.9v1.9h-1.9zM50.3 28.2h1.6v1.6h-1.6zM72.0 30.8h1.3v1.3h-1.3zM72.6 27.7h1.3v1.3h-1.3zM84.2 28.1h2.2v2.2h-2.2zM-0.1 31.4h1.3v1.3h-1.3zM5.7 31.3h2.2v2.2h-2.2zM18.1 31.7h2.2v2.2h-2.2zM23.7 32.8h2.2v2.2h-2.2zM29.2 34.8h1.9v1.9h-1.9zM34.1 33.2h1.3v1.3h-1.3zM49.9 33.4h1.3v1.3h-1.3zM53.1 34.0h1.3v1.3h-1.3zM60.5 34.9h1.3v1.3h-1.3zM69.6 34.9h2.2v2.2h-2.2zM75.3 32.1h1.6v1.6h-1.6zM82.1 33.4h1.9v1.9h-1.9zM6.0 35.8h1.3v1.3h-1.3zM13.7 37.6h1.6v1.6h-1.6zM18.5 37.6h2.2v2.2h-2.2zM29.9 38.3h1.6v1.6h-1.6zM40.7 38.1h1.6v1.6h-1.6zM51.3 36.9h1.9v1.9h-1.9zM58.7 36.3h1.6v1.6h-1.6zM62.4 35.6h2.2v2.2h-2.2zM70.8 36.9h2.2v2.2h-2.2zM73.3 36.3h1.9v1.9h-1.9zM78.9 36.7h2.2v2.2h-2.2zM81.7 36.4h2.2v2.2h-2.2zM-0.2 39.8h1.9v1.9h-1.9zM2.5 39.8h1.9v1.9h-1.9zM7.3 41.0h1.3v1.3h-1.3zM33.8 41.8h1.3v1.3h-1.3zM41.6 41.2h1.9v1.9h-1.9zM51.3 41.9h1.6v1.6h-1.6zM55.2 40.4h1.3v1.3h-1.3zM56.6 42.7h1.6v1.6h-1.6zM63.4 42.1h1.3v1.3h-1.3zM4.4 43.6h1.9v1.9h-1.9zM24.2 46.2h1.3v1.3h-1.3zM27.6 47.2h1.3v1.3h-1.3zM33.8 45.2h2.2v2.2h-2.2zM35.6 47.4h1.3v1.3h-1.3zM40.1 45.1h2.2v2.2h-2.2zM54.1 44.5h2.2v2.2h-2.2zM59.2 46.7h2.2v2.2h-2.2zM66.8 45.6h1.3v1.3h-1.3zM68.7 47.4h1.9v1.9h-1.9zM78.7 43.4h1.3v1.3h-1.3zM2.8 50.9h1.6v1.6h-1.6zM28.2 48.1h1.3v1.3h-1.3zM44.9 47.9h1.9v1.9h-1.9zM50.4 47.5h1.6v1.6h-1.6zM62.4 50.1h2.2v2.2h-2.2zM68.2 51.4h2.2v2.2h-2.2zM79.2 49.8h1.3v1.3h-1.3zM6.8 54.1h1.9v1.9h-1.9zM11.6 52.3h1.3v1.3h-1.3zM28.5 52.9h1.9v1.9h-1.9zM40.1 54.6h1.9v1.9h-1.9zM49.7 54.6h1.3v1.3h-1.3zM55.9 55.0h1.6v1.6h-1.6zM3.5 55.7h1.3v1.3h-1.3zM25.9 58.6h1.9v1.9h-1.9zM32.6 57.7h1.6v1.6h-1.6zM36.8 58.7h1.3v1.3h-1.3zM45.7 56.4h1.3v1.3h-1.3zM48.2 58.5h1.6v1.6h-1.6zM58.5 58.9h1.9v1.9h-1.9zM73.3 58.9h1.9v1.9h-1.9zM8.3 63.8h1.9v1.9h-1.9zM13.4 60.4h2.2v2.2h-2.2zM16.1 60.0h1.3v1.3h-1.3zM43.6 61.7h1.6v1.6h-1.6zM50.0 60.2h1.3v1.3h-1.3zM52.7 63.8h1.3v1.3h-1.3zM66.4 63.8h1.9v1.9h-1.9zM71.6 62.1h1.6v1.6h-1.6zM80.1 62.5h1.3v1.3h-1.3z" opacity="0.55"/><path d="M0.1 1.4h2.2v2.2h-2.2zM5.6 0.4h1.3v1.3h-1.3zM9.2 0.9h1.6v1.6h-1.6zM16.1 0.8h1.6v1.6h-1.6zM31.2 1.0h2.2v2.2h-2.2zM37.4 2.2h1.6v1.6h-1.6zM40.6 1.0h1.9v1.9h-1.9zM43.6 -1.3h1.9v1.9h-1.9zM50.9 2.0h2.2v2.2h-2.2zM68.8 1.5h1.9v1.9h-1.9zM79.1 -1.3h1.6v1.6h-1.6zM17.5 5.4h1.3v1.3h-1.3zM20.2 4.2h1.6v1.6h-1.6zM26.2 5.7h1.3v1.3h-1.3zM58.3 4.9h1.3v1.3h-1.3zM79.1 3.2h1.6v1.6h-1.6zM8.3 6.5h1.6v1.6h-1.6zM17.8 8.8h1.6v1.6h-1.6zM20.3 10.1h1.3v1.3h-1.3zM23.3 10.2h2.2v2.2h-2.2zM63.4 9.3h1.6v1.6h-1.6zM68.3 7.7h1.6v1.6h-1.6zM83.3 9.9h1.3v1.3h-1.3zM7.2 11.6h1.6v1.6h-1.6zM15.6 12.7h1.3v1.3h-1.3zM20.2 11.2h2.2v2.2h-2.2zM25.6 11.5h1.3v1.3h-1.3zM34.9 11.6h2.2v2.2h-2.2zM42.4 13.1h1.6v1.6h-1.6zM59.9 11.7h1.9v1.9h-1.9zM70.0 14.1h1.6v1.6h-1.6zM73.0 12.3h1.3v1.3h-1.3zM83.3 13.4h1.3v1.3h-1.3zM13.5 18.7h1.3v1.3h-1.3zM21.8 17.4h2.2v2.2h-2.2zM33.1 17.6h1.6v1.6h-1.6zM63.1 18.1h2.2v2.2h-2.2zM77.7 15.9h1.6v1.6h-1.6zM-0.2 22.7h1.9v1.9h-1.9zM8.7 21.4h2.2v2.2h-2.2zM11.1 21.6h1.9v1.9h-1.9zM19.9 18.9h1.3v1.3h-1.3zM30.4 21.8h1.9v1.9h-1.9zM39.9 20.7h1.6v1.6h-1.6zM44.1 21.3h1.6v1.6h-1.6zM51.2 20.0h1.9v1.9h-1.9zM53.1 20.3h2.2v2.2h-2.2zM57.8 21.7h1.3v1.3h-1.3zM63.8 20.1h1.9v1.9h-1.9zM72.7 19.5h2.2v2.2h-2.2zM78.6 19.0h1.3v1.3h-1.3zM1.2 23.5h1.3v1.3h-1.3zM10.2 23.2h1.9v1.9h-1.9zM21.4 25.9h1.9v1.9h-1.9zM24.9 23.1h2.2v2.2h-2.2zM66.9 25.1h1.3v1.3h-1.3zM-1.5 27.9h1.6v1.6h-1.6zM8.3 29.8h2.2v2.2h-2.2zM18.7 27.8h1.3v1.3h-1.3zM29.7 28.9h1.3v1.3h-1.3zM52.8 27.0h1.9v1.9h-1.9zM58.5 30.7h2.2v2.2h-2.2zM60.3 27.3h1.6v1.6h-1.6zM79.9 30.6h2.2v2.2h-2.2zM7.8 33.5h1.6v1.6h-1.6zM11.2 32.8h1.3v1.3h-1.3zM38.5 35.0h1.9v1.9h-1.9zM44.7 34.9h1.9v1.9h-1.9zM56.4 33.7h1.3v1.3h-1.3zM65.5 34.2h1.3v1.3h-1.3zM76.9 32.4h1.3v1.3h-1.3zM-1.4 35.9h1.6v1.6h-1.6zM10.1 38.6h1.3v1.3h-1.3zM19.3 37.4h1.6v1.6h-1.6zM23.2 36.5h2.2v2.2h-2.2zM36.7 38.1h2.2v2.2h-2.2zM65.5 35.2h1.9v1.9h-1.9zM13.2 39.7h2.2v2.2h-2.2zM17.2 39.7h1.9v1.9h-1.9zM26.3 39.4h1.3v1.3h-1.3zM39.1 41.4h1.6v1.6h-1.6zM45.1 42.1h1.9v1.9h-1.9zM66.3 40.2h1.3v1.3h-1.3zM68.7 39.7h1.3v1.3h-1.3zM-1.5 46.5h1.6v1.6h-1.6zM7.7 47.2h1.9v1.9h-1.9zM16.4 46.6h1.9v1.9h-1.9zM21.8 46.2h1.6v1.6h-1.6zM47.4 46.6h1.9v1.9h-1.9zM47.6 47.0h1.9v1.9h-1.9zM61.0 47.4h1.6v1.6h-1.6zM-1.5 48.0h1.3v1.3h-1.3zM10.5 50.2h1.3v1.3h-1.3zM13.6 48.9h1.9v1.9h-1.9zM21.3 47.9h2.2v2.2h-2.2zM41.3 51.2h1.6v1.6h-1.6zM54.2 50.7h2.2v2.2h-2.2zM57.0 48.0h2.2v2.2h-2.2zM64.0 50.4h1.9v1.9h-1.9zM75.0 49.9h1.6v1.6h-1.6zM81.4 51.2h2.2v2.2h-2.2zM18.3 55.1h1.9v1.9h-1.9zM24.7 52.0h2.2v2.2h-2.2zM32.2 55.4h1.6v1.6h-1.6zM37.9 54.5h1.6v1.6h-1.6zM45.5 52.8h1.9v1.9h-1.9zM54.9 52.8h1.3v1.3h-1.3zM62.5 53.3h2.2v2.2h-2.2zM76.0 55.0h2.2v2.2h-2.2zM76.3 54.9h1.3v1.3h-1.3zM84.1 55.5h1.9v1.9h-1.9zM1.9 55.8h1.9v1.9h-1.9zM9.1 56.2h1.6v1.6h-1.6zM14.5 58.1h1.3v1.3h-1.3zM29.7 55.8h1.3v1.3h-1.3zM40.5 56.0h1.9v1.9h-1.9zM52.6 56.3h1.9v1.9h-1.9zM83.8 56.0h1.9v1.9h-1.9zM1.1 61.0h1.3v1.3h-1.3zM4.9 61.4h2.2v2.2h-2.2zM19.9 63.0h2.2v2.2h-2.2zM31.6 60.5h1.3v1.3h-1.3zM35.5 59.9h1.6v1.6h-1.6zM57.8 60.3h1.3v1.3h-1.3zM63.6 61.0h1.9v1.9h-1.9zM74.1 62.8h1.9v1.9h-1.9z" opacity="0.9"/></g>
<g id="gp0"><path d="M3.8 12.5h1.8v1.8h-1.8zM2.5 38.0h1.5v1.5h-1.5zM75.7 42.5h1.8v1.8h-1.8zM13.8 1.0h1.5v1.5h-1.5zM36.3 14.3h1.8v1.8h-1.8zM70.4 18.5h1.8v1.8h-1.8zM32.0 39.9h1.5v1.5h-1.5zM35.9 42.2h1.5v1.5h-1.5zM24.3 44.0h1.8v1.8h-1.8zM11.6 8.0h1.5v1.5h-1.5zM13.3 11.7h1.5v1.5h-1.5zM67.8 6.8h1.2v1.2h-1.2zM45.2 39.9h1.5v1.5h-1.5zM65.6 9.0h1.8v1.8h-1.8zM53.8 38.6h1.2v1.2h-1.2zM47.9 42.3h1.2v1.2h-1.2zM81.4 28.7h1.8v1.8h-1.8zM23.9 54.2h1.2v1.2h-1.2zM16.3 19.5h1.5v1.5h-1.5zM45.8 22.2h1.5v1.5h-1.5zM59.0 21.2h1.8v1.8h-1.8zM81.1 8.6h1.2v1.2h-1.2zM25.4 41.5h1.2v1.2h-1.2zM79.4 19.7h1.5v1.5h-1.5zM28.5 60.2h1.5v1.5h-1.5zM53.3 22.3h1.2v1.2h-1.2zM20.1 32.1h1.8v1.8h-1.8zM60.8 13.0h1.5v1.5h-1.5zM18.6 2.9h1.8v1.8h-1.8zM74.6 53.3h1.8v1.8h-1.8zM24.1 24.1h1.2v1.2h-1.2zM2.1 48.9h1.5v1.5h-1.5zM51.4 3.0h1.2v1.2h-1.2zM65.3 27.5h1.8v1.8h-1.8zM37.5 1.8h1.5v1.5h-1.5zM18.5 35.2h1.8v1.8h-1.8zM42.8 8.2h1.2v1.2h-1.2zM8.1 27.2h1.8v1.8h-1.8zM51.9 45.6h1.8v1.8h-1.8zM57.2 11.8h1.8v1.8h-1.8zM58.3 25.1h1.5v1.5h-1.5zM3.2 6.8h1.2v1.2h-1.2zM81.6 30.8h1.8v1.8h-1.8zM20.1 47.6h1.5v1.5h-1.5zM7.1 59.0h1.2v1.2h-1.2zM60.8 45.4h1.5v1.5h-1.5zM13.1 39.5h1.8v1.8h-1.8zM1.5 2.6h1.8v1.8h-1.8zM63.5 27.5h1.8v1.8h-1.8zM63.2 2.0h1.2v1.2h-1.2zM19.5 8.1h1.8v1.8h-1.8zM55.9 10.0h1.2v1.2h-1.2zM31.2 49.5h1.8v1.8h-1.8zM1.6 58.7h1.8v1.8h-1.8zM40.1 29.4h1.2v1.2h-1.2zM36.4 26.7h1.2v1.2h-1.2zM43.6 8.9h1.8v1.8h-1.8zM58.2 23.9h1.2v1.2h-1.2zM3.4 44.1h1.8v1.8h-1.8zM38.2 53.3h1.5v1.5h-1.5zM34.3 48.7h1.8v1.8h-1.8zM38.7 46.5h1.5v1.5h-1.5zM40.2 48.1h1.5v1.5h-1.5zM14.1 25.8h1.2v1.2h-1.2zM13.5 47.1h1.8v1.8h-1.8zM47.1 9.7h1.8v1.8h-1.8zM56.8 59.1h1.2v1.2h-1.2zM8.0 1.2h1.5v1.5h-1.5zM77.9 44.5h1.8v1.8h-1.8zM29.2 60.2h1.8v1.8h-1.8zM7.7 42.6h1.5v1.5h-1.5zM44.8 58.1h1.8v1.8h-1.8zM41.0 25.8h1.8v1.8h-1.8zM30.8 0.9h1.2v1.2h-1.2zM81.7 30.1h1.5v1.5h-1.5zM3.6 22.5h1.8v1.8h-1.8zM67.6 41.1h1.8v1.8h-1.8zM70.8 46.3h1.8v1.8h-1.8zM43.8 6.6h1.2v1.2h-1.2zM26.7 29.4h1.8v1.8h-1.8zM46.7 49.7h1.8v1.8h-1.8zM55.4 30.5h1.2v1.2h-1.2zM53.2 21.7h1.5v1.5h-1.5zM5.7 31.4h1.2v1.2h-1.2zM58.9 56.8h1.8v1.8h-1.8zM23.6 9.4h1.2v1.2h-1.2zM49.6 10.2h1.5v1.5h-1.5zM63.9 18.5h1.5v1.5h-1.5zM13.4 53.8h1.8v1.8h-1.8zM7.9 13.8h1.8v1.8h-1.8zM60.5 20.1h1.5v1.5h-1.5zM10.4 1.6h1.2v1.2h-1.2zM30.0 46.0h1.2v1.2h-1.2zM12.4 61.0h1.5v1.5h-1.5zM7.4 5.7h1.8v1.8h-1.8zM71.4 11.2h1.2v1.2h-1.2zM74.7 38.3h1.8v1.8h-1.8zM66.3 20.4h1.8v1.8h-1.8zM14.3 16.0h1.2v1.2h-1.2zM60.9 30.7h1.2v1.2h-1.2zM46.3 45.2h1.8v1.8h-1.8zM64.8 50.3h1.5v1.5h-1.5zM30.1 9.1h1.5v1.5h-1.5zM17.3 44.3h1.2v1.2h-1.2zM16.6 56.1h1.8v1.8h-1.8zM76.2 43.0h1.2v1.2h-1.2zM82.3 18.8h1.5v1.5h-1.5zM79.1 10.9h1.8v1.8h-1.8zM71.5 32.7h1.5v1.5h-1.5zM12.0 55.9h1.2v1.2h-1.2zM42.8 8.7h1.8v1.8h-1.8zM65.5 7.1h1.5v1.5h-1.5zM63.8 58.5h1.5v1.5h-1.5zM17.4 44.7h1.5v1.5h-1.5zM71.9 35.9h1.5v1.5h-1.5zM49.3 49.4h1.5v1.5h-1.5zM18.6 51.4h1.5v1.5h-1.5zM6.7 30.8h1.2v1.2h-1.2zM19.8 57.5h1.2v1.2h-1.2zM7.7 36.4h1.8v1.8h-1.8zM37.0 30.9h1.2v1.2h-1.2zM59.7 41.7h1.8v1.8h-1.8zM60.1 15.9h1.2v1.2h-1.2zM74.9 41.9h1.8v1.8h-1.8zM77.5 8.9h1.5v1.5h-1.5zM33.9 53.4h1.5v1.5h-1.5zM31.9 27.7h1.5v1.5h-1.5zM57.5 14.8h1.5v1.5h-1.5zM23.5 17.3h1.2v1.2h-1.2zM72.8 55.5h1.5v1.5h-1.5zM33.7 11.8h1.2v1.2h-1.2zM39.9 56.6h1.8v1.8h-1.8zM68.1 50.0h1.5v1.5h-1.5zM23.1 43.3h1.5v1.5h-1.5zM68.1 48.0h1.2v1.2h-1.2zM67.2 20.7h1.2v1.2h-1.2zM12.9 43.0h1.8v1.8h-1.8zM38.5 1.8h1.8v1.8h-1.8zM15.8 54.2h1.8v1.8h-1.8zM78.6 9.3h1.8v1.8h-1.8zM74.9 28.1h1.8v1.8h-1.8zM6.4 11.9h1.5v1.5h-1.5zM75.4 22.6h1.2v1.2h-1.2zM58.8 6.2h1.2v1.2h-1.2zM9.8 17.6h1.5v1.5h-1.5zM71.1 61.4h1.2v1.2h-1.2zM49.4 13.0h1.8v1.8h-1.8zM55.0 28.6h1.2v1.2h-1.2zM38.7 20.0h1.8v1.8h-1.8zM77.1 49.2h1.8v1.8h-1.8zM6.1 24.5h1.8v1.8h-1.8zM32.9 50.5h1.8v1.8h-1.8zM26.4 21.8h1.8v1.8h-1.8zM81.8 41.7h1.2v1.2h-1.2zM39.5 39.7h1.2v1.2h-1.2zM9.4 8.8h1.8v1.8h-1.8zM79.8 45.5h1.5v1.5h-1.5zM72.0 55.9h1.2v1.2h-1.2zM24.3 26.0h1.5v1.5h-1.5zM41.0 20.6h1.5v1.5h-1.5zM37.7 49.6h1.8v1.8h-1.8zM54.6 39.5h1.2v1.2h-1.2zM21.6 26.5h1.5v1.5h-1.5zM50.3 17.9h1.5v1.5h-1.5zM70.8 5.9h1.8v1.8h-1.8zM55.8 35.1h1.5v1.5h-1.5zM59.2 45.8h1.8v1.8h-1.8zM45.9 48.7h1.5v1.5h-1.5zM41.7 40.4h1.5v1.5h-1.5zM50.3 15.8h1.5v1.5h-1.5zM67.5 18.7h1.2v1.2h-1.2zM26.0 30.6h1.5v1.5h-1.5zM24.4 31.4h1.2v1.2h-1.2zM33.8 30.0h1.2v1.2h-1.2zM21.7 31.3h1.2v1.2h-1.2zM42.6 22.5h1.5v1.5h-1.5zM77.8 10.8h1.5v1.5h-1.5zM32.7 24.8h1.5v1.5h-1.5zM57.4 14.2h1.5v1.5h-1.5zM33.4 28.0h1.8v1.8h-1.8zM7.4 18.3h1.2v1.2h-1.2zM20.3 4.6h1.2v1.2h-1.2zM72.7 50.9h1.5v1.5h-1.5zM42.4 54.0h1.8v1.8h-1.8zM80.2 27.8h1.2v1.2h-1.2zM13.7 40.0h1.5v1.5h-1.5zM10.8 15.0h1.5v1.5h-1.5zM16.7 39.9h1.2v1.2h-1.2zM42.7 46.2h1.8v1.8h-1.8zM52.1 21.8h1.8v1.8h-1.8zM10.8 9.5h1.5v1.5h-1.5zM28.0 0.6h1.8v1.8h-1.8zM63.4 25.3h1.5v1.5h-1.5zM46.6 51.0h1.8v1.8h-1.8zM80.6 43.9h1.5v1.5h-1.5zM31.9 40.4h1.8v1.8h-1.8zM40.8 21.1h1.5v1.5h-1.5zM7.7 12.7h1.5v1.5h-1.5zM50.0 40.7h1.2v1.2h-1.2zM65.3 2.1h1.8v1.8h-1.8zM33.0 3.4h1.2v1.2h-1.2zM54.3 16.5h1.8v1.8h-1.8zM26.4 17.5h1.8v1.8h-1.8zM24.4 13.2h1.2v1.2h-1.2zM15.8 20.5h1.5v1.5h-1.5zM72.0 11.6h1.8v1.8h-1.8zM20.3 5.2h1.2v1.2h-1.2zM73.2 57.9h1.2v1.2h-1.2zM43.0 37.2h1.8v1.8h-1.8zM62.2 61.0h1.8v1.8h-1.8zM33.2 41.0h1.2v1.2h-1.2zM31.8 52.1h1.2v1.2h-1.2zM64.5 19.8h1.5v1.5h-1.5zM50.8 42.2h1.8v1.8h-1.8zM71.0 23.7h1.2v1.2h-1.2zM59.8 24.4h1.2v1.2h-1.2zM60.6 6.3h1.5v1.5h-1.5zM38.8 14.0h1.8v1.8h-1.8zM81.9 32.9h1.2v1.2h-1.2zM3.5 46.2h1.8v1.8h-1.8zM68.5 57.7h1.8v1.8h-1.8zM22.8 3.8h1.8v1.8h-1.8zM54.5 59.1h1.5v1.5h-1.5zM44.0 39.7h1.5v1.5h-1.5zM69.5 4.7h1.8v1.8h-1.8zM81.4 1.0h1.2v1.2h-1.2zM37.3 12.6h1.2v1.2h-1.2zM60.7 17.2h1.5v1.5h-1.5zM40.8 11.9h1.8v1.8h-1.8zM54.8 41.0h1.8v1.8h-1.8zM14.9 0.8h1.5v1.5h-1.5zM42.7 57.0h1.8v1.8h-1.8zM23.2 42.3h1.8v1.8h-1.8zM51.5 49.9h1.5v1.5h-1.5zM77.1 4.5h1.8v1.8h-1.8zM17.8 41.5h1.2v1.2h-1.2zM11.7 39.0h1.5v1.5h-1.5zM81.7 55.1h1.8v1.8h-1.8zM57.3 44.0h1.5v1.5h-1.5zM55.7 43.6h1.8v1.8h-1.8z" opacity="0.45"/><path d="M31.8 41.9h1.9v1.9h-1.9zM72.3 57.3h1.9v1.9h-1.9zM1.7 17.8h1.3v1.3h-1.3zM52.0 7.2h1.9v1.9h-1.9zM40.0 52.2h1.3v1.3h-1.3zM44.2 27.7h1.9v1.9h-1.9zM34.1 8.6h1.9v1.9h-1.9zM5.2 4.5h1.9v1.9h-1.9zM79.0 20.4h1.3v1.3h-1.3zM24.3 19.5h1.3v1.3h-1.3zM54.0 56.3h1.6v1.6h-1.6zM53.0 0.8h1.3v1.3h-1.3zM20.4 12.9h1.6v1.6h-1.6zM81.4 41.5h1.3v1.3h-1.3zM50.5 21.1h1.9v1.9h-1.9zM44.9 58.9h1.3v1.3h-1.3zM64.7 51.0h1.9v1.9h-1.9zM68.4 7.7h1.6v1.6h-1.6zM43.7 24.3h1.6v1.6h-1.6zM45.2 56.0h1.9v1.9h-1.9zM12.0 5.7h1.9v1.9h-1.9zM19.1 6.0h1.3v1.3h-1.3zM66.1 9.5h1.6v1.6h-1.6zM59.0 61.3h1.9v1.9h-1.9zM34.7 44.0h1.9v1.9h-1.9zM1.4 26.6h1.9v1.9h-1.9zM4.9 3.6h1.6v1.6h-1.6zM24.0 47.0h1.3v1.3h-1.3zM7.4 53.4h1.3v1.3h-1.3zM75.5 61.1h1.6v1.6h-1.6zM53.7 26.6h1.9v1.9h-1.9zM44.7 27.1h1.3v1.3h-1.3zM67.2 31.7h1.9v1.9h-1.9zM1.2 45.8h1.9v1.9h-1.9zM78.8 19.3h1.3v1.3h-1.3zM27.1 33.9h1.6v1.6h-1.6zM11.5 53.4h1.3v1.3h-1.3zM41.4 41.5h1.6v1.6h-1.6zM37.9 6.3h1.3v1.3h-1.3zM24.5 37.9h1.6v1.6h-1.6zM8.7 59.5h1.6v1.6h-1.6zM27.4 46.0h1.6v1.6h-1.6zM19.4 1.3h1.6v1.6h-1.6zM12.8 7.5h1.3v1.3h-1.3zM1.8 12.1h1.9v1.9h-1.9zM68.6 53.6h1.9v1.9h-1.9zM49.8 37.3h1.3v1.3h-1.3zM14.6 25.4h1.3v1.3h-1.3zM46.7 34.6h1.9v1.9h-1.9zM80.4 33.8h1.9v1.9h-1.9zM4.4 38.2h1.9v1.9h-1.9zM40.6 44.1h1.6v1.6h-1.6zM30.4 59.6h1.3v1.3h-1.3zM61.1 2.5h1.9v1.9h-1.9zM10.6 26.6h1.9v1.9h-1.9zM17.0 50.5h1.3v1.3h-1.3zM33.1 15.6h1.6v1.6h-1.6zM63.5 27.5h1.6v1.6h-1.6zM5.1 40.9h1.9v1.9h-1.9zM43.1 19.4h1.6v1.6h-1.6zM66.4 41.7h1.6v1.6h-1.6zM12.6 25.8h1.9v1.9h-1.9zM62.3 57.6h1.3v1.3h-1.3zM25.5 43.1h1.3v1.3h-1.3zM29.8 5.2h1.6v1.6h-1.6zM10.8 14.0h1.6v1.6h-1.6zM51.3 60.7h1.6v1.6h-1.6zM1.0 5.7h1.9v1.9h-1.9zM13.3 23.6h1.3v1.3h-1.3zM54.6 30.2h1.3v1.3h-1.3zM35.3 22.7h1.9v1.9h-1.9zM41.5 31.4h1.3v1.3h-1.3zM31.7 4.2h1.6v1.6h-1.6zM42.8 45.0h1.6v1.6h-1.6zM17.0 14.1h1.6v1.6h-1.6zM54.6 2.5h1.6v1.6h-1.6zM69.1 46.7h1.6v1.6h-1.6zM81.0 48.8h1.6v1.6h-1.6zM1.9 52.9h1.6v1.6h-1.6zM29.4 23.1h1.3v1.3h-1.3zM12.1 8.9h1.9v1.9h-1.9zM58.8 48.2h1.3v1.3h-1.3zM14.6 51.5h1.6v1.6h-1.6zM73.6 59.4h1.6v1.6h-1.6zM69.0 31.1h1.3v1.3h-1.3zM76.3 18.3h1.6v1.6h-1.6zM26.0 29.7h1.3v1.3h-1.3zM18.4 11.0h1.3v1.3h-1.3zM63.3 55.6h1.9v1.9h-1.9zM52.2 32.5h1.6v1.6h-1.6zM1.1 18.9h1.9v1.9h-1.9zM26.9 38.5h1.9v1.9h-1.9zM74.3 10.7h1.3v1.3h-1.3zM9.7 1.3h1.3v1.3h-1.3zM82.5 2.3h1.9v1.9h-1.9zM27.1 35.6h1.9v1.9h-1.9zM73.0 55.5h1.6v1.6h-1.6zM13.6 1.1h1.9v1.9h-1.9zM5.5 21.3h1.3v1.3h-1.3zM15.4 44.2h1.3v1.3h-1.3zM45.5 49.8h1.6v1.6h-1.6zM19.7 15.9h1.9v1.9h-1.9zM41.6 54.3h1.6v1.6h-1.6zM23.5 55.9h1.9v1.9h-1.9zM34.0 56.6h1.9v1.9h-1.9zM23.9 1.1h1.3v1.3h-1.3zM63.6 36.3h1.9v1.9h-1.9zM37.3 24.5h1.3v1.3h-1.3zM23.6 49.0h1.9v1.9h-1.9zM58.8 25.7h1.9v1.9h-1.9zM77.3 57.0h1.3v1.3h-1.3zM67.3 8.4h1.6v1.6h-1.6zM8.9 46.6h1.9v1.9h-1.9zM0.8 55.7h1.9v1.9h-1.9zM29.8 45.7h1.9v1.9h-1.9zM22.9 40.4h1.3v1.3h-1.3zM56.9 30.9h1.6v1.6h-1.6zM56.1 19.3h1.6v1.6h-1.6zM15.7 54.0h1.3v1.3h-1.3zM80.6 52.7h1.6v1.6h-1.6zM36.5 50.6h1.3v1.3h-1.3zM61.3 59.2h1.3v1.3h-1.3zM49.6 27.7h1.9v1.9h-1.9zM23.2 17.9h1.6v1.6h-1.6zM50.9 58.9h1.9v1.9h-1.9zM74.2 60.4h1.6v1.6h-1.6zM67.6 4.3h1.6v1.6h-1.6zM20.8 27.6h1.6v1.6h-1.6zM60.8 35.1h1.6v1.6h-1.6zM49.9 35.8h1.9v1.9h-1.9zM77.7 45.4h1.9v1.9h-1.9zM40.4 52.1h1.3v1.3h-1.3zM62.1 31.1h1.3v1.3h-1.3zM67.9 40.9h1.3v1.3h-1.3zM57.6 38.5h1.9v1.9h-1.9zM79.2 13.2h1.9v1.9h-1.9zM65.8 47.2h1.6v1.6h-1.6zM49.1 59.9h1.6v1.6h-1.6zM46.8 56.4h1.6v1.6h-1.6zM72.4 20.1h1.9v1.9h-1.9zM27.0 56.0h1.6v1.6h-1.6zM46.2 42.2h1.3v1.3h-1.3zM50.3 8.3h1.6v1.6h-1.6zM55.2 8.1h1.9v1.9h-1.9zM61.3 8.3h1.3v1.3h-1.3zM27.4 6.2h1.9v1.9h-1.9zM62.3 34.7h1.9v1.9h-1.9zM70.6 33.8h1.9v1.9h-1.9zM60.8 12.4h1.9v1.9h-1.9zM46.6 2.1h1.9v1.9h-1.9zM21.0 33.4h1.3v1.3h-1.3zM21.3 38.1h1.9v1.9h-1.9zM32.9 49.9h1.9v1.9h-1.9zM50.3 11.0h1.9v1.9h-1.9zM79.7 37.7h1.6v1.6h-1.6zM33.7 36.8h1.9v1.9h-1.9zM12.0 44.3h1.3v1.3h-1.3zM33.6 56.7h1.9v1.9h-1.9zM55.8 52.7h1.6v1.6h-1.6zM80.9 39.2h1.6v1.6h-1.6zM70.5 10.6h1.6v1.6h-1.6zM65.0 50.5h1.3v1.3h-1.3zM68.5 3.1h1.9v1.9h-1.9zM31.2 27.9h1.6v1.6h-1.6zM15.7 36.4h1.3v1.3h-1.3zM38.5 29.5h1.6v1.6h-1.6zM25.7 56.4h1.6v1.6h-1.6zM72.6 45.1h1.6v1.6h-1.6zM32.4 14.9h1.9v1.9h-1.9zM19.5 47.3h1.3v1.3h-1.3zM9.3 3.6h1.9v1.9h-1.9zM81.5 4.5h1.6v1.6h-1.6zM63.0 9.6h1.9v1.9h-1.9zM38.7 14.6h1.3v1.3h-1.3zM13.2 52.7h1.9v1.9h-1.9zM6.9 0.7h1.9v1.9h-1.9zM72.0 28.1h1.3v1.3h-1.3zM73.9 38.0h1.9v1.9h-1.9zM58.6 4.5h1.9v1.9h-1.9zM63.0 56.2h1.6v1.6h-1.6zM55.4 57.1h1.9v1.9h-1.9zM74.4 1.3h1.6v1.6h-1.6zM6.3 35.9h1.6v1.6h-1.6zM29.8 27.4h1.9v1.9h-1.9zM22.1 57.4h1.9v1.9h-1.9zM80.6 36.5h1.3v1.3h-1.3zM75.4 14.4h1.6v1.6h-1.6zM60.3 15.6h1.9v1.9h-1.9zM3.9 50.5h1.6v1.6h-1.6zM50.7 37.7h1.6v1.6h-1.6zM4.8 41.6h1.9v1.9h-1.9zM22.3 46.9h1.3v1.3h-1.3zM57.1 52.6h1.6v1.6h-1.6zM11.3 18.7h1.3v1.3h-1.3zM13.1 10.4h1.6v1.6h-1.6zM22.2 29.8h1.9v1.9h-1.9zM36.9 9.4h1.6v1.6h-1.6zM26.5 59.6h1.6v1.6h-1.6zM25.0 53.1h1.3v1.3h-1.3zM11.9 0.5h1.9v1.9h-1.9z" opacity="0.85"/></g>
<g id="dp1"><path d="M10.9 1.4h1.9v1.9h-1.9zM26.5 -0.1h2.2v2.2h-2.2zM46.8 0.3h1.6v1.6h-1.6zM53.9 0.4h2.2v2.2h-2.2zM58.2 0.7h2.2v2.2h-2.2zM63.5 -0.9h2.2v2.2h-2.2zM64.5 -0.5h2.2v2.2h-2.2zM70.2 2.3h2.2v2.2h-2.2zM74.8 -0.4h1.9v1.9h-1.9zM77.0 -1.3h1.9v1.9h-1.9zM82.9 1.9h1.3v1.3h-1.3zM10.8 3.3h1.3v1.3h-1.3zM15.1 3.8h1.9v1.9h-1.9zM21.5 5.1h1.9v1.9h-1.9zM28.7 4.2h1.9v1.9h-1.9zM51.4 4.3h1.3v1.3h-1.3zM58.6 3.0h2.2v2.2h-2.2zM60.7 3.2h1.3v1.3h-1.3zM72.0 6.0h1.6v1.6h-1.6zM-1.2 6.7h1.9v1.9h-1.9zM14.0 10.2h1.9v1.9h-1.9zM16.2 7.4h1.6v1.6h-1.6zM21.2 8.5h2.2v2.2h-2.2zM30.1 7.2h1.3v1.3h-1.3zM32.1 9.5h2.2v2.2h-2.2zM55.4 6.6h1.3v1.3h-1.3zM56.2 10.5h1.3v1.3h-1.3zM68.6 9.2h1.9v1.9h-1.9zM75.6 6.6h1.3v1.3h-1.3zM-0.2 13.1h2.2v2.2h-2.2zM18.4 10.8h1.3v1.3h-1.3zM25.2 13.3h1.6v1.6h-1.6zM27.2 11.3h2.2v2.2h-2.2zM33.0 14.5h1.6v1.6h-1.6zM37.2 12.5h1.3v1.3h-1.3zM42.9 12.9h1.6v1.6h-1.6zM44.7 11.2h1.6v1.6h-1.6zM63.4 13.4h1.9v1.9h-1.9zM65.1 11.7h2.2v2.2h-2.2zM68.5 14.6h2.2v2.2h-2.2zM78.2 12.9h1.6v1.6h-1.6zM83.9 13.8h2.2v2.2h-2.2zM0.8 16.7h2.2v2.2h-2.2zM11.3 14.9h1.9v1.9h-1.9zM17.3 18.1h2.2v2.2h-2.2zM20.2 14.7h2.2v2.2h-2.2zM27.1 17.3h2.2v2.2h-2.2zM32.5 17.0h1.3v1.3h-1.3zM57.8 18.3h2.2v2.2h-2.2zM64.2 17.4h1.9v1.9h-1.9zM69.1 16.1h1.6v1.6h-1.6zM74.2 15.8h2.2v2.2h-2.2zM0.2 21.7h2.2v2.2h-2.2zM3.3 19.4h1.3v1.3h-1.3zM11.3 20.3h2.2v2.2h-2.2zM26.9 22.7h1.6v1.6h-1.6zM29.8 21.3h1.9v1.9h-1.9zM35.8 21.5h1.3v1.3h-1.3zM46.8 20.9h1.9v1.9h-1.9zM49.6 20.4h2.2v2.2h-2.2zM52.6 21.1h2.2v2.2h-2.2zM58.4 19.5h1.6v1.6h-1.6zM63.5 21.7h1.3v1.3h-1.3zM65.2 20.7h1.3v1.3h-1.3zM75.4 22.3h1.9v1.9h-1.9zM77.4 19.0h2.2v2.2h-2.2zM1.5 26.3h1.3v1.3h-1.3zM9.0 26.0h1.6v1.6h-1.6zM15.3 24.3h2.2v2.2h-2.2zM25.1 26.2h1.6v1.6h-1.6zM28.9 25.1h1.9v1.9h-1.9zM36.6 25.3h1.9v1.9h-1.9zM44.3 24.5h2.2v2.2h-2.2zM56.7 26.0h1.3v1.3h-1.3zM79.0 26.0h1.3v1.3h-1.3zM83.2 25.2h1.3v1.3h-1.3zM8.5 28.9h2.2v2.2h-2.2zM18.7 28.6h2.2v2.2h-2.2zM22.8 30.5h2.2v2.2h-2.2zM53.7 29.1h2.2v2.2h-2.2zM61.8 30.0h2.2v2.2h-2.2zM68.2 27.3h2.2v2.2h-2.2zM72.9 27.0h1.6v1.6h-1.6zM5.5 31.6h1.3v1.3h-1.3zM13.4 33.3h1.9v1.9h-1.9zM17.9 32.8h1.6v1.6h-1.6zM24.4 34.7h1.9v1.9h-1.9zM33.1 31.9h2.2v2.2h-2.2zM36.8 31.3h1.3v1.3h-1.3zM46.4 32.9h2.2v2.2h-2.2zM52.5 33.6h1.9v1.9h-1.9zM58.9 34.8h2.2v2.2h-2.2zM66.9 31.8h1.6v1.6h-1.6zM72.6 31.6h1.6v1.6h-1.6zM14.0 38.9h2.2v2.2h-2.2zM15.4 38.0h1.9v1.9h-1.9zM20.1 37.0h1.9v1.9h-1.9zM23.0 38.1h1.3v1.3h-1.3zM34.2 39.0h1.3v1.3h-1.3zM44.3 38.6h1.3v1.3h-1.3zM55.6 39.2h1.3v1.3h-1.3zM14.3 43.0h2.2v2.2h-2.2zM21.3 43.0h1.6v1.6h-1.6zM25.1 40.5h1.9v1.9h-1.9zM30.6 39.7h1.3v1.3h-1.3zM32.5 40.3h1.3v1.3h-1.3zM38.1 39.7h2.2v2.2h-2.2zM48.5 40.9h1.3v1.3h-1.3zM55.3 41.5h2.2v2.2h-2.2zM64.3 42.1h1.6v1.6h-1.6zM8.2 43.8h1.3v1.3h-1.3zM17.0 44.4h2.2v2.2h-2.2zM24.0 43.8h2.2v2.2h-2.2zM32.9 45.5h1.9v1.9h-1.9zM41.3 46.1h1.9v1.9h-1.9zM47.9 43.4h2.2v2.2h-2.2zM65.4 47.3h1.6v1.6h-1.6zM74.0 44.8h1.3v1.3h-1.3zM80.1 43.6h1.9v1.9h-1.9zM18.9 48.1h2.2v2.2h-2.2zM31.2 51.5h1.9v1.9h-1.9zM43.6 50.7h1.6v1.6h-1.6zM49.4 51.0h1.9v1.9h-1.9zM52.3 51.5h1.6v1.6h-1.6zM59.5 48.7h1.9v1.9h-1.9zM68.4 49.4h1.9v1.9h-1.9zM83.3 49.1h1.6v1.6h-1.6zM6.0 53.7h1.9v1.9h-1.9zM6.5 52.5h1.9v1.9h-1.9zM22.2 55.3h1.6v1.6h-1.6zM27.1 53.6h1.9v1.9h-1.9zM32.8 52.3h1.3v1.3h-1.3zM35.9 54.4h1.9v1.9h-1.9zM45.8 54.4h2.2v2.2h-2.2zM49.9 55.6h2.2v2.2h-2.2zM57.0 52.0h1.9v1.9h-1.9zM11.1 59.6h1.6v1.6h-1.6zM24.4 58.1h2.2v2.2h-2.2zM29.7 56.6h1.9v1.9h-1.9zM34.9 57.3h1.3v1.3h-1.3zM44.3 57.2h2.2v2.2h-2.2zM53.3 57.0h1.6v1.6h-1.6zM56.5 55.7h1.9v1.9h-1.9zM78.0 59.0h1.9v1.9h-1.9zM7.2 62.6h1.6v1.6h-1.6zM15.2 63.5h1.6v1.6h-1.6zM32.5 62.6h1.3v1.3h-1.3zM51.4 63.7h1.6v1.6h-1.6zM57.9 63.6h1.9v1.9h-1.9zM74.3 61.2h1.6v1.6h-1.6zM76.5 63.7h1.6v1.6h-1.6z" opacity="0.55"/><path d="M-1.0 2.2h1.9v1.9h-1.9zM4.4 0.7h1.9v1.9h-1.9zM7.3 2.2h1.3v1.3h-1.3zM16.0 0.9h2.2v2.2h-2.2zM20.5 -0.5h1.3v1.3h-1.3zM28.6 1.0h1.3v1.3h-1.3zM31.4 1.5h1.9v1.9h-1.9zM37.5 -1.1h1.3v1.3h-1.3zM39.5 -1.1h1.9v1.9h-1.9zM1.8 4.2h1.3v1.3h-1.3zM3.5 5.1h1.9v1.9h-1.9zM7.0 3.8h1.9v1.9h-1.9zM25.1 3.7h1.9v1.9h-1.9zM33.4 3.8h2.2v2.2h-2.2zM36.3 5.3h1.3v1.3h-1.3zM46.8 2.4h2.2v2.2h-2.2zM52.6 5.0h1.3v1.3h-1.3zM66.5 3.1h1.6v1.6h-1.6zM75.9 3.7h1.6v1.6h-1.6zM84.3 4.2h1.3v1.3h-1.3zM7.4 9.4h2.2v2.2h-2.2zM38.5 9.4h1.9v1.9h-1.9zM43.3 9.9h1.3v1.3h-1.3zM43.7 9.2h1.9v1.9h-1.9zM62.5 9.5h2.2v2.2h-2.2zM67.2 7.3h1.9v1.9h-1.9zM78.2 8.3h1.9v1.9h-1.9zM84.1 7.4h1.6v1.6h-1.6zM9.2 11.7h1.9v1.9h-1.9zM10.9 13.8h2.2v2.2h-2.2zM22.1 11.2h1.6v1.6h-1.6zM58.3 11.4h1.6v1.6h-1.6zM75.4 13.7h1.6v1.6h-1.6zM9.0 17.5h1.6v1.6h-1.6zM24.7 14.9h2.2v2.2h-2.2zM38.5 16.2h1.6v1.6h-1.6zM40.0 16.9h1.6v1.6h-1.6zM46.9 15.1h1.6v1.6h-1.6zM47.6 15.4h2.2v2.2h-2.2zM53.1 16.0h1.6v1.6h-1.6zM61.3 18.0h1.6v1.6h-1.6zM79.3 16.3h2.2v2.2h-2.2zM81.6 16.4h1.3v1.3h-1.3zM34.0 19.5h1.3v1.3h-1.3zM41.2 21.7h1.6v1.6h-1.6zM70.5 21.4h2.2v2.2h-2.2zM2.9 25.4h2.2v2.2h-2.2zM13.2 26.0h1.3v1.3h-1.3zM19.4 25.4h2.2v2.2h-2.2zM35.0 24.3h1.9v1.9h-1.9zM67.6 24.6h1.3v1.3h-1.3zM73.9 25.8h1.6v1.6h-1.6zM6.4 28.4h1.9v1.9h-1.9zM14.2 29.2h2.2v2.2h-2.2zM24.6 28.3h1.9v1.9h-1.9zM30.2 27.5h1.3v1.3h-1.3zM34.3 29.3h2.2v2.2h-2.2zM41.4 27.4h1.3v1.3h-1.3zM44.9 29.5h1.6v1.6h-1.6zM51.0 28.3h1.9v1.9h-1.9zM57.2 29.3h2.2v2.2h-2.2zM77.3 29.0h1.9v1.9h-1.9zM81.7 27.5h1.3v1.3h-1.3zM0.9 31.3h2.2v2.2h-2.2zM19.7 33.1h1.6v1.6h-1.6zM30.8 32.2h1.9v1.9h-1.9zM63.0 34.7h1.9v1.9h-1.9zM69.4 31.2h1.9v1.9h-1.9zM76.9 32.8h1.3v1.3h-1.3zM9.7 37.3h2.2v2.2h-2.2zM38.0 35.6h1.6v1.6h-1.6zM39.7 36.5h1.9v1.9h-1.9zM50.1 39.1h1.6v1.6h-1.6zM58.2 36.7h1.9v1.9h-1.9zM64.2 38.2h1.3v1.3h-1.3zM68.4 37.9h1.6v1.6h-1.6zM75.4 37.1h1.9v1.9h-1.9zM78.6 38.0h1.9v1.9h-1.9zM83.3 35.4h1.3v1.3h-1.3zM-1.2 40.2h1.9v1.9h-1.9zM4.8 40.7h1.6v1.6h-1.6zM6.9 40.6h1.3v1.3h-1.3zM14.7 40.5h1.9v1.9h-1.9zM40.1 39.6h1.3v1.3h-1.3zM43.8 40.2h1.6v1.6h-1.6zM63.1 40.6h1.9v1.9h-1.9zM68.8 42.6h1.9v1.9h-1.9zM75.8 43.1h2.2v2.2h-2.2zM77.6 40.4h1.6v1.6h-1.6zM83.1 40.9h1.3v1.3h-1.3zM29.6 45.8h1.3v1.3h-1.3zM54.0 44.2h2.2v2.2h-2.2zM59.1 47.1h2.2v2.2h-2.2zM62.9 46.5h1.3v1.3h-1.3zM71.9 46.3h2.2v2.2h-2.2zM82.2 46.9h1.3v1.3h-1.3zM2.2 50.4h2.2v2.2h-2.2zM16.2 51.0h1.3v1.3h-1.3zM24.5 49.7h1.9v1.9h-1.9zM28.1 51.0h1.6v1.6h-1.6zM36.8 49.7h1.3v1.3h-1.3zM39.6 50.5h1.9v1.9h-1.9zM63.2 49.3h2.2v2.2h-2.2zM65.3 47.6h1.6v1.6h-1.6zM73.4 48.4h1.9v1.9h-1.9zM76.8 47.5h1.9v1.9h-1.9zM1.1 54.0h2.2v2.2h-2.2zM11.3 53.0h1.9v1.9h-1.9zM17.0 55.1h1.3v1.3h-1.3zM53.5 52.3h1.9v1.9h-1.9zM63.3 53.9h1.3v1.3h-1.3zM72.4 54.3h1.3v1.3h-1.3zM78.3 52.0h1.6v1.6h-1.6zM80.5 53.3h2.2v2.2h-2.2zM-1.0 59.3h2.2v2.2h-2.2zM5.3 57.3h2.2v2.2h-2.2zM9.1 56.7h2.2v2.2h-2.2zM17.7 56.1h1.9v1.9h-1.9zM21.0 56.2h1.3v1.3h-1.3zM37.3 59.7h1.6v1.6h-1.6zM39.4 58.0h1.6v1.6h-1.6zM47.6 59.4h1.9v1.9h-1.9zM61.5 59.7h2.2v2.2h-2.2zM67.5 57.2h2.2v2.2h-2.2zM69.1 55.8h1.3v1.3h-1.3zM81.9 57.1h2.2v2.2h-2.2zM10.6 63.1h1.3v1.3h-1.3zM21.8 60.7h2.2v2.2h-2.2zM26.0 60.4h2.2v2.2h-2.2zM29.5 63.1h2.2v2.2h-2.2zM40.2 61.8h2.2v2.2h-2.2zM46.6 63.5h1.3v1.3h-1.3zM52.0 61.5h2.2v2.2h-2.2zM63.6 61.5h2.2v2.2h-2.2zM64.0 61.5h2.2v2.2h-2.2zM70.5 62.3h2.2v2.2h-2.2zM81.4 63.7h1.6v1.6h-1.6z" opacity="0.9"/></g>
<g id="gp1"><path d="M5.5 20.0h1.2v1.2h-1.2zM64.4 20.1h1.8v1.8h-1.8zM57.3 28.9h1.5v1.5h-1.5zM37.3 53.2h1.8v1.8h-1.8zM39.2 56.8h1.5v1.5h-1.5zM5.1 14.1h1.8v1.8h-1.8zM76.3 0.8h1.2v1.2h-1.2zM19.8 16.4h1.2v1.2h-1.2zM54.0 29.7h1.8v1.8h-1.8zM2.5 35.4h1.2v1.2h-1.2zM62.8 44.2h1.8v1.8h-1.8zM44.5 46.8h1.8v1.8h-1.8zM56.4 18.0h1.2v1.2h-1.2zM62.9 19.2h1.5v1.5h-1.5zM73.8 54.2h1.2v1.2h-1.2zM2.5 27.1h1.2v1.2h-1.2zM34.6 59.4h1.2v1.2h-1.2zM16.7 8.6h1.8v1.8h-1.8zM78.3 31.1h1.5v1.5h-1.5zM55.0 38.7h1.2v1.2h-1.2zM57.5 21.1h1.2v1.2h-1.2zM24.9 2.1h1.2v1.2h-1.2zM40.5 36.5h1.8v1.8h-1.8zM68.7 51.7h1.2v1.2h-1.2zM30.8 53.7h1.8v1.8h-1.8zM14.8 4.8h1.2v1.2h-1.2zM3.1 44.8h1.5v1.5h-1.5zM37.4 2.0h1.8v1.8h-1.8zM40.8 28.4h1.8v1.8h-1.8zM29.3 48.4h1.5v1.5h-1.5zM74.7 10.5h1.2v1.2h-1.2zM13.4 50.3h1.2v1.2h-1.2zM17.6 0.1h1.5v1.5h-1.5zM35.8 1.3h1.2v1.2h-1.2zM76.5 38.7h1.5v1.5h-1.5zM17.0 31.2h1.2v1.2h-1.2zM35.0 58.1h1.2v1.2h-1.2zM33.3 28.1h1.5v1.5h-1.5zM81.7 41.1h1.8v1.8h-1.8zM73.0 15.3h1.2v1.2h-1.2zM79.1 2.5h1.8v1.8h-1.8zM5.4 8.9h1.8v1.8h-1.8zM32.1 10.2h1.5v1.5h-1.5zM64.9 31.6h1.2v1.2h-1.2zM65.7 42.6h1.2v1.2h-1.2zM46.5 12.0h1.5v1.5h-1.5zM44.2 8.2h1.8v1.8h-1.8zM82.2 40.6h1.5v1.5h-1.5zM39.4 57.2h1.2v1.2h-1.2zM64.1 0.9h1.5v1.5h-1.5zM31.1 6.3h1.2v1.2h-1.2zM76.5 48.4h1.2v1.2h-1.2zM43.8 5.1h1.2v1.2h-1.2zM39.9 49.7h1.2v1.2h-1.2zM24.3 1.6h1.2v1.2h-1.2zM79.5 55.5h1.2v1.2h-1.2zM52.1 52.7h1.8v1.8h-1.8zM18.2 25.1h1.2v1.2h-1.2zM42.0 54.7h1.8v1.8h-1.8zM70.7 18.4h1.8v1.8h-1.8zM8.9 53.1h1.5v1.5h-1.5zM35.8 19.3h1.8v1.8h-1.8zM64.2 52.6h1.8v1.8h-1.8zM30.8 3.5h1.8v1.8h-1.8zM19.4 2.4h1.5v1.5h-1.5zM28.0 4.0h1.8v1.8h-1.8zM45.0 26.0h1.2v1.2h-1.2zM12.5 35.2h1.2v1.2h-1.2zM20.0 27.8h1.8v1.8h-1.8zM30.6 60.4h1.2v1.2h-1.2zM74.6 56.0h1.2v1.2h-1.2zM1.1 41.2h1.8v1.8h-1.8zM53.1 58.0h1.5v1.5h-1.5zM55.9 21.4h1.5v1.5h-1.5zM26.3 53.2h1.8v1.8h-1.8zM20.7 39.8h1.8v1.8h-1.8zM59.6 17.3h1.2v1.2h-1.2zM4.8 27.8h1.2v1.2h-1.2zM50.5 14.4h1.8v1.8h-1.8zM49.0 56.7h1.5v1.5h-1.5zM57.4 41.4h1.5v1.5h-1.5zM1.5 58.6h1.8v1.8h-1.8zM13.1 22.7h1.8v1.8h-1.8zM30.8 37.8h1.8v1.8h-1.8zM12.9 14.8h1.8v1.8h-1.8zM43.3 36.7h1.8v1.8h-1.8zM12.1 34.0h1.8v1.8h-1.8zM6.7 29.0h1.8v1.8h-1.8zM73.7 33.2h1.2v1.2h-1.2zM47.7 6.5h1.2v1.2h-1.2zM41.1 31.8h1.2v1.2h-1.2zM5.2 13.6h1.8v1.8h-1.8zM47.1 56.3h1.8v1.8h-1.8zM67.4 36.7h1.8v1.8h-1.8zM24.8 60.6h1.5v1.5h-1.5zM2.8 1.3h1.8v1.8h-1.8zM78.9 22.4h1.5v1.5h-1.5zM51.4 47.4h1.2v1.2h-1.2zM53.4 1.5h1.5v1.5h-1.5zM31.9 36.0h1.8v1.8h-1.8zM9.7 41.7h1.8v1.8h-1.8zM42.5 53.8h1.2v1.2h-1.2zM73.1 7.7h1.8v1.8h-1.8zM28.0 20.0h1.2v1.2h-1.2zM37.5 40.9h1.5v1.5h-1.5zM40.9 2.0h1.2v1.2h-1.2zM9.1 33.9h1.2v1.2h-1.2zM64.0 13.1h1.5v1.5h-1.5zM69.3 11.3h1.8v1.8h-1.8zM42.2 44.5h1.8v1.8h-1.8zM71.2 59.1h1.8v1.8h-1.8zM2.6 26.3h1.2v1.2h-1.2zM47.6 5.1h1.5v1.5h-1.5zM57.9 25.1h1.2v1.2h-1.2zM6.5 15.2h1.5v1.5h-1.5zM41.2 35.7h1.8v1.8h-1.8zM51.9 34.1h1.2v1.2h-1.2zM80.5 47.2h1.5v1.5h-1.5zM42.9 59.8h1.2v1.2h-1.2zM71.4 39.7h1.2v1.2h-1.2zM7.8 9.6h1.8v1.8h-1.8zM77.0 55.5h1.2v1.2h-1.2zM70.2 43.0h1.8v1.8h-1.8zM47.4 46.0h1.5v1.5h-1.5zM64.9 29.9h1.2v1.2h-1.2zM7.9 8.0h1.5v1.5h-1.5zM63.9 55.5h1.5v1.5h-1.5zM32.1 27.8h1.8v1.8h-1.8zM65.8 39.9h1.5v1.5h-1.5zM10.4 8.7h1.2v1.2h-1.2zM73.5 41.9h1.2v1.2h-1.2zM75.1 55.8h1.8v1.8h-1.8zM32.8 2.8h1.5v1.5h-1.5zM10.9 22.5h1.8v1.8h-1.8zM11.8 14.6h1.5v1.5h-1.5zM22.5 18.1h1.8v1.8h-1.8zM41.0 57.7h1.5v1.5h-1.5zM68.3 8.3h1.5v1.5h-1.5zM82.1 46.9h1.2v1.2h-1.2zM75.2 11.7h1.5v1.5h-1.5zM42.7 4.4h1.5v1.5h-1.5zM41.0 33.1h1.8v1.8h-1.8zM32.3 58.3h1.2v1.2h-1.2zM71.0 49.5h1.8v1.8h-1.8zM78.4 28.1h1.2v1.2h-1.2zM17.1 24.0h1.8v1.8h-1.8zM34.1 32.6h1.8v1.8h-1.8zM78.0 41.6h1.8v1.8h-1.8zM51.1 25.3h1.5v1.5h-1.5zM24.6 59.5h1.8v1.8h-1.8zM36.5 31.9h1.5v1.5h-1.5zM26.7 22.2h1.5v1.5h-1.5zM43.8 47.1h1.5v1.5h-1.5zM46.3 4.6h1.8v1.8h-1.8zM71.6 28.9h1.8v1.8h-1.8zM21.9 31.0h1.2v1.2h-1.2zM44.2 48.0h1.8v1.8h-1.8zM16.7 25.5h1.2v1.2h-1.2zM28.9 5.8h1.8v1.8h-1.8zM28.5 3.2h1.5v1.5h-1.5zM21.2 3.8h1.8v1.8h-1.8zM12.5 51.0h1.2v1.2h-1.2zM52.4 28.9h1.5v1.5h-1.5zM32.7 58.5h1.2v1.2h-1.2zM64.2 6.6h1.8v1.8h-1.8zM71.8 30.5h1.2v1.2h-1.2zM82.6 53.7h1.5v1.5h-1.5zM51.8 36.0h1.5v1.5h-1.5zM52.6 31.4h1.2v1.2h-1.2zM66.5 55.7h1.2v1.2h-1.2zM4.3 1.4h1.8v1.8h-1.8zM46.0 11.7h1.5v1.5h-1.5zM10.1 58.6h1.5v1.5h-1.5zM22.7 42.3h1.8v1.8h-1.8zM25.3 40.3h1.5v1.5h-1.5zM60.6 54.8h1.2v1.2h-1.2zM57.4 17.6h1.2v1.2h-1.2zM1.7 19.7h1.8v1.8h-1.8zM31.1 40.2h1.8v1.8h-1.8zM80.5 1.7h1.5v1.5h-1.5zM55.4 11.8h1.5v1.5h-1.5zM50.7 61.2h1.2v1.2h-1.2zM71.4 23.2h1.5v1.5h-1.5zM69.4 20.7h1.8v1.8h-1.8zM16.9 3.0h1.2v1.2h-1.2zM1.6 37.1h1.8v1.8h-1.8zM57.3 27.0h1.8v1.8h-1.8zM54.8 44.1h1.2v1.2h-1.2zM50.9 33.8h1.2v1.2h-1.2zM24.1 42.8h1.8v1.8h-1.8zM21.5 34.2h1.8v1.8h-1.8zM80.4 0.4h1.2v1.2h-1.2zM30.2 33.8h1.5v1.5h-1.5zM10.6 1.0h1.5v1.5h-1.5zM69.5 58.3h1.5v1.5h-1.5zM43.8 25.8h1.2v1.2h-1.2zM50.8 13.0h1.8v1.8h-1.8zM45.4 39.4h1.8v1.8h-1.8zM38.7 3.2h1.5v1.5h-1.5zM32.3 24.0h1.2v1.2h-1.2zM4.5 18.1h1.8v1.8h-1.8zM4.7 4.1h1.2v1.2h-1.2zM79.5 42.8h1.8v1.8h-1.8zM30.3 48.9h1.8v1.8h-1.8zM46.0 27.3h1.2v1.2h-1.2zM56.1 11.9h1.8v1.8h-1.8zM59.7 19.7h1.5v1.5h-1.5zM71.7 21.8h1.8v1.8h-1.8zM11.1 21.3h1.2v1.2h-1.2zM14.7 53.7h1.5v1.5h-1.5zM51.3 18.9h1.5v1.5h-1.5zM66.4 47.3h1.2v1.2h-1.2zM44.3 26.7h1.8v1.8h-1.8zM0.3 29.0h1.2v1.2h-1.2zM16.4 25.8h1.2v1.2h-1.2zM36.4 38.4h1.2v1.2h-1.2zM0.7 7.5h1.8v1.8h-1.8zM23.8 56.5h1.8v1.8h-1.8zM22.5 37.7h1.5v1.5h-1.5zM42.5 12.0h1.5v1.5h-1.5zM74.0 8.9h1.5v1.5h-1.5zM66.1 18.7h1.5v1.5h-1.5zM5.7 19.1h1.5v1.5h-1.5zM35.3 23.3h1.2v1.2h-1.2zM75.6 41.6h1.8v1.8h-1.8zM79.6 43.0h1.8v1.8h-1.8zM24.7 39.0h1.8v1.8h-1.8zM44.2 39.7h1.5v1.5h-1.5zM37.0 32.6h1.5v1.5h-1.5zM17.5 15.1h1.5v1.5h-1.5zM53.2 52.9h1.5v1.5h-1.5zM52.9 39.0h1.2v1.2h-1.2zM72.9 35.6h1.8v1.8h-1.8zM61.9 55.3h1.2v1.2h-1.2zM42.8 46.6h1.8v1.8h-1.8zM34.3 17.9h1.5v1.5h-1.5zM64.9 6.0h1.2v1.2h-1.2zM4.6 42.7h1.2v1.2h-1.2zM17.7 5.5h1.2v1.2h-1.2zM7.2 2.6h1.5v1.5h-1.5z" opacity="0.45"/><path d="M46.7 45.6h1.3v1.3h-1.3zM25.9 56.8h1.9v1.9h-1.9zM53.9 52.0h1.6v1.6h-1.6zM47.0 35.8h1.9v1.9h-1.9zM10.9 43.5h1.9v1.9h-1.9zM72.6 61.1h1.9v1.9h-1.9zM75.1 38.9h1.3v1.3h-1.3zM30.4 42.6h1.9v1.9h-1.9zM55.7 59.3h1.9v1.9h-1.9zM29.5 15.1h1.6v1.6h-1.6zM10.6 14.9h1.3v1.3h-1.3zM59.0 39.2h1.9v1.9h-1.9zM46.9 40.7h1.6v1.6h-1.6zM17.6 15.4h1.6v1.6h-1.6zM34.1 40.5h1.6v1.6h-1.6zM11.7 0.2h1.9v1.9h-1.9zM15.9 51.4h1.9v1.9h-1.9zM59.9 39.2h1.9v1.9h-1.9zM80.1 16.9h1.9v1.9h-1.9zM35.8 29.4h1.6v1.6h-1.6zM22.3 21.6h1.6v1.6h-1.6zM36.1 39.4h1.9v1.9h-1.9zM73.0 4.2h1.3v1.3h-1.3zM56.6 37.5h1.9v1.9h-1.9zM44.4 13.7h1.3v1.3h-1.3zM40.4 59.8h1.6v1.6h-1.6zM63.8 35.0h1.9v1.9h-1.9zM78.5 44.9h1.6v1.6h-1.6zM17.8 44.3h1.9v1.9h-1.9zM28.3 15.9h1.6v1.6h-1.6zM3.4 0.4h1.9v1.9h-1.9zM76.4 40.0h1.9v1.9h-1.9zM17.3 35.6h1.6v1.6h-1.6zM17.8 53.5h1.3v1.3h-1.3zM8.4 9.0h1.3v1.3h-1.3zM16.8 39.0h1.6v1.6h-1.6zM78.7 48.3h1.6v1.6h-1.6zM45.3 31.9h1.6v1.6h-1.6zM62.9 35.1h1.9v1.9h-1.9zM27.6 0.4h1.9v1.9h-1.9zM5.4 57.1h1.9v1.9h-1.9zM59.7 19.5h1.6v1.6h-1.6zM78.8 6.8h1.6v1.6h-1.6zM48.6 55.8h1.6v1.6h-1.6zM49.8 11.6h1.9v1.9h-1.9zM36.3 23.8h1.6v1.6h-1.6zM57.0 14.0h1.9v1.9h-1.9zM29.4 51.7h1.6v1.6h-1.6zM11.8 9.8h1.6v1.6h-1.6zM80.3 60.6h1.3v1.3h-1.3zM78.9 8.6h1.9v1.9h-1.9zM72.0 28.5h1.6v1.6h-1.6zM73.9 7.7h1.3v1.3h-1.3zM48.3 29.7h1.6v1.6h-1.6zM64.6 38.1h1.3v1.3h-1.3zM18.7 28.2h1.9v1.9h-1.9zM33.1 2.9h1.9v1.9h-1.9zM2.4 25.1h1.9v1.9h-1.9zM46.6 2.9h1.3v1.3h-1.3zM37.1 0.4h1.3v1.3h-1.3zM54.8 47.1h1.3v1.3h-1.3zM78.0 30.8h1.9v1.9h-1.9zM6.9 45.3h1.9v1.9h-1.9zM31.8 19.3h1.3v1.3h-1.3zM20.6 47.0h1.6v1.6h-1.6zM19.8 18.3h1.6v1.6h-1.6zM32.4 2.7h1.6v1.6h-1.6zM64.3 36.7h1.6v1.6h-1.6zM70.9 24.9h1.6v1.6h-1.6zM47.8 57.5h1.6v1.6h-1.6zM27.6 43.3h1.9v1.9h-1.9zM34.9 35.8h1.6v1.6h-1.6zM79.6 23.7h1.3v1.3h-1.3zM55.3 21.4h1.3v1.3h-1.3zM13.8 39.1h1.3v1.3h-1.3zM44.5 41.0h1.3v1.3h-1.3zM21.0 49.2h1.9v1.9h-1.9zM7.3 13.6h1.9v1.9h-1.9zM71.2 8.8h1.6v1.6h-1.6zM15.8 42.3h1.9v1.9h-1.9zM56.1 5.0h1.6v1.6h-1.6zM51.4 29.9h1.6v1.6h-1.6zM5.7 11.3h1.6v1.6h-1.6zM26.4 7.9h1.6v1.6h-1.6zM79.5 3.5h1.6v1.6h-1.6zM53.5 0.4h1.9v1.9h-1.9zM60.3 0.8h1.9v1.9h-1.9zM51.4 23.2h1.9v1.9h-1.9zM64.0 15.3h1.9v1.9h-1.9zM10.5 50.7h1.6v1.6h-1.6zM60.3 39.5h1.3v1.3h-1.3zM40.7 22.4h1.6v1.6h-1.6zM51.4 41.6h1.3v1.3h-1.3zM11.4 29.3h1.6v1.6h-1.6zM5.0 15.4h1.9v1.9h-1.9zM51.3 51.3h1.6v1.6h-1.6zM7.3 8.1h1.9v1.9h-1.9zM11.9 1.1h1.3v1.3h-1.3zM57.2 27.2h1.9v1.9h-1.9zM29.7 10.5h1.6v1.6h-1.6zM26.0 38.7h1.9v1.9h-1.9zM32.4 53.2h1.3v1.3h-1.3zM37.3 10.9h1.6v1.6h-1.6zM9.7 10.7h1.9v1.9h-1.9zM43.5 34.7h1.3v1.3h-1.3zM13.3 48.9h1.3v1.3h-1.3zM76.5 30.4h1.9v1.9h-1.9zM61.9 8.6h1.3v1.3h-1.3zM4.0 60.3h1.6v1.6h-1.6zM20.3 22.1h1.3v1.3h-1.3zM18.2 52.6h1.9v1.9h-1.9zM25.1 47.9h1.3v1.3h-1.3zM62.6 13.7h1.3v1.3h-1.3zM0.6 48.0h1.9v1.9h-1.9zM77.1 14.9h1.6v1.6h-1.6zM37.8 40.5h1.6v1.6h-1.6zM3.3 12.6h1.6v1.6h-1.6zM41.1 39.6h1.9v1.9h-1.9zM15.9 17.2h1.3v1.3h-1.3zM71.8 22.7h1.9v1.9h-1.9zM65.6 35.9h1.9v1.9h-1.9zM13.4 44.5h1.9v1.9h-1.9zM64.7 49.3h1.6v1.6h-1.6zM32.7 55.9h1.3v1.3h-1.3zM20.4 13.2h1.6v1.6h-1.6zM57.6 35.2h1.9v1.9h-1.9zM54.3 61.0h1.3v1.3h-1.3zM21.5 39.3h1.3v1.3h-1.3zM30.1 60.5h1.3v1.3h-1.3zM7.7 23.0h1.3v1.3h-1.3zM4.4 20.4h1.3v1.3h-1.3zM81.4 13.6h1.6v1.6h-1.6zM31.3 39.4h1.6v1.6h-1.6zM13.5 17.5h1.9v1.9h-1.9zM36.6 0.2h1.6v1.6h-1.6zM67.4 41.6h1.6v1.6h-1.6zM24.8 40.9h1.6v1.6h-1.6zM58.4 35.6h1.3v1.3h-1.3zM45.3 42.8h1.9v1.9h-1.9zM55.5 44.0h1.6v1.6h-1.6zM31.6 17.7h1.3v1.3h-1.3zM43.8 11.1h1.6v1.6h-1.6zM73.2 2.0h1.9v1.9h-1.9zM58.7 29.6h1.6v1.6h-1.6zM73.1 27.3h1.6v1.6h-1.6zM66.8 32.3h1.9v1.9h-1.9zM12.3 34.1h1.9v1.9h-1.9zM13.4 26.6h1.3v1.3h-1.3zM38.6 21.5h1.3v1.3h-1.3zM32.5 59.9h1.3v1.3h-1.3zM45.2 23.7h1.6v1.6h-1.6zM31.0 58.9h1.6v1.6h-1.6zM49.8 57.4h1.6v1.6h-1.6zM34.3 7.5h1.6v1.6h-1.6zM47.7 57.9h1.3v1.3h-1.3zM54.2 53.6h1.3v1.3h-1.3zM3.5 8.1h1.6v1.6h-1.6zM22.4 51.6h1.9v1.9h-1.9zM47.6 22.8h1.6v1.6h-1.6zM41.8 42.5h1.3v1.3h-1.3zM81.2 5.5h1.3v1.3h-1.3zM3.1 20.0h1.6v1.6h-1.6zM74.0 3.6h1.3v1.3h-1.3zM60.8 47.3h1.9v1.9h-1.9zM50.8 57.2h1.9v1.9h-1.9zM71.9 6.1h1.3v1.3h-1.3zM53.5 31.9h1.3v1.3h-1.3zM20.6 39.0h1.3v1.3h-1.3zM54.4 18.6h1.3v1.3h-1.3zM43.0 36.9h1.6v1.6h-1.6zM60.3 23.1h1.9v1.9h-1.9zM7.6 13.4h1.6v1.6h-1.6zM74.2 41.6h1.3v1.3h-1.3zM42.1 14.4h1.6v1.6h-1.6zM28.1 10.1h1.3v1.3h-1.3zM56.0 36.8h1.3v1.3h-1.3zM13.1 14.3h1.6v1.6h-1.6zM38.7 54.9h1.9v1.9h-1.9zM1.6 52.5h1.6v1.6h-1.6zM40.1 47.0h1.3v1.3h-1.3zM16.6 60.5h1.3v1.3h-1.3zM69.6 1.9h1.3v1.3h-1.3zM30.6 28.3h1.3v1.3h-1.3zM9.2 3.9h1.9v1.9h-1.9zM33.7 41.3h1.9v1.9h-1.9zM45.4 7.6h1.9v1.9h-1.9zM51.8 50.8h1.6v1.6h-1.6zM72.3 51.5h1.9v1.9h-1.9zM14.7 58.7h1.3v1.3h-1.3zM29.7 16.4h1.6v1.6h-1.6zM14.6 51.3h1.3v1.3h-1.3zM15.6 31.1h1.6v1.6h-1.6zM29.4 23.5h1.9v1.9h-1.9zM16.0 39.8h1.6v1.6h-1.6zM3.1 42.8h1.9v1.9h-1.9zM21.3 29.0h1.6v1.6h-1.6zM5.7 57.7h1.9v1.9h-1.9zM23.4 60.3h1.3v1.3h-1.3zM66.3 51.0h1.3v1.3h-1.3zM81.4 29.0h1.3v1.3h-1.3z" opacity="0.85"/></g>
<g id="dp2"><path d="M8.5 -1.4h1.3v1.3h-1.3zM12.4 0.3h1.6v1.6h-1.6zM16.3 0.2h1.3v1.3h-1.3zM29.4 0.8h2.2v2.2h-2.2zM37.1 2.1h2.2v2.2h-2.2zM56.3 0.4h1.6v1.6h-1.6zM73.3 1.3h1.6v1.6h-1.6zM79.5 1.7h2.2v2.2h-2.2zM1.4 6.1h2.2v2.2h-2.2zM3.5 3.2h2.2v2.2h-2.2zM10.4 5.0h2.2v2.2h-2.2zM11.7 5.5h1.6v1.6h-1.6zM24.8 5.6h1.6v1.6h-1.6zM47.8 5.2h1.3v1.3h-1.3zM54.2 3.2h1.6v1.6h-1.6zM59.2 4.0h2.2v2.2h-2.2zM65.8 3.2h1.3v1.3h-1.3zM69.3 4.3h1.3v1.3h-1.3zM73.9 3.2h2.2v2.2h-2.2zM84.3 4.5h1.3v1.3h-1.3zM6.7 7.3h2.2v2.2h-2.2zM11.3 7.6h1.6v1.6h-1.6zM22.6 7.3h1.3v1.3h-1.3zM23.8 8.9h1.9v1.9h-1.9zM38.9 9.4h1.6v1.6h-1.6zM51.3 7.4h2.2v2.2h-2.2zM55.3 10.4h2.2v2.2h-2.2zM56.6 10.4h1.3v1.3h-1.3zM61.1 9.8h1.3v1.3h-1.3zM65.4 10.4h1.9v1.9h-1.9zM-1.1 12.0h2.2v2.2h-2.2zM18.4 12.1h1.3v1.3h-1.3zM25.3 13.6h1.6v1.6h-1.6zM34.1 12.4h1.6v1.6h-1.6zM42.9 13.0h1.6v1.6h-1.6zM44.0 14.3h1.6v1.6h-1.6zM52.3 10.9h1.3v1.3h-1.3zM61.1 12.7h1.6v1.6h-1.6zM70.7 11.4h1.9v1.9h-1.9zM9.3 16.2h1.3v1.3h-1.3zM16.0 16.9h1.3v1.3h-1.3zM19.6 17.9h1.6v1.6h-1.6zM30.4 18.7h1.9v1.9h-1.9zM35.3 18.4h2.2v2.2h-2.2zM45.3 17.7h1.6v1.6h-1.6zM54.8 15.9h2.2v2.2h-2.2zM57.7 16.3h1.6v1.6h-1.6zM59.9 17.6h1.3v1.3h-1.3zM73.2 15.0h1.6v1.6h-1.6zM79.7 15.5h1.3v1.3h-1.3zM-1.0 20.5h1.6v1.6h-1.6zM11.2 22.1h1.3v1.3h-1.3zM32.8 22.4h1.3v1.3h-1.3zM35.6 20.8h2.2v2.2h-2.2zM44.2 20.6h1.9v1.9h-1.9zM49.7 22.7h1.9v1.9h-1.9zM52.2 22.8h1.9v1.9h-1.9zM65.7 21.4h2.2v2.2h-2.2zM70.9 21.1h2.2v2.2h-2.2zM8.5 23.6h1.3v1.3h-1.3zM13.9 24.1h2.2v2.2h-2.2zM16.9 25.6h2.2v2.2h-2.2zM21.3 26.1h1.6v1.6h-1.6zM23.9 23.2h1.9v1.9h-1.9zM28.5 22.9h1.9v1.9h-1.9zM34.5 26.1h1.9v1.9h-1.9zM36.7 25.0h1.9v1.9h-1.9zM46.8 24.7h1.9v1.9h-1.9zM47.5 26.4h1.9v1.9h-1.9zM53.9 26.3h1.3v1.3h-1.3zM56.2 23.0h2.2v2.2h-2.2zM61.4 25.5h1.3v1.3h-1.3zM64.4 26.7h2.2v2.2h-2.2zM82.9 25.3h1.6v1.6h-1.6zM0.6 28.6h1.9v1.9h-1.9zM10.4 29.3h1.3v1.3h-1.3zM16.0 28.2h1.3v1.3h-1.3zM23.8 27.1h1.9v1.9h-1.9zM55.2 27.2h1.6v1.6h-1.6zM78.4 29.8h1.6v1.6h-1.6zM80.9 29.5h1.3v1.3h-1.3zM27.0 33.5h2.2v2.2h-2.2zM48.7 31.3h1.9v1.9h-1.9zM55.1 33.7h1.6v1.6h-1.6zM58.6 34.2h1.3v1.3h-1.3zM67.4 33.5h1.3v1.3h-1.3zM72.0 33.9h1.3v1.3h-1.3zM77.2 34.0h1.9v1.9h-1.9zM6.7 35.8h2.2v2.2h-2.2zM17.7 39.0h1.3v1.3h-1.3zM22.8 38.6h1.6v1.6h-1.6zM28.2 37.3h1.3v1.3h-1.3zM32.4 36.9h1.9v1.9h-1.9zM39.5 36.6h1.3v1.3h-1.3zM47.4 38.3h2.2v2.2h-2.2zM55.3 39.1h1.6v1.6h-1.6zM69.5 37.6h2.2v2.2h-2.2zM75.6 35.2h1.3v1.3h-1.3zM7.8 41.6h1.3v1.3h-1.3zM18.7 42.1h1.6v1.6h-1.6zM19.1 42.1h1.3v1.3h-1.3zM49.7 42.4h1.3v1.3h-1.3zM52.9 40.9h1.9v1.9h-1.9zM62.8 40.4h1.3v1.3h-1.3zM68.9 41.3h1.3v1.3h-1.3zM10.9 45.6h1.6v1.6h-1.6zM22.1 43.6h2.2v2.2h-2.2zM43.8 45.7h1.3v1.3h-1.3zM49.8 45.4h1.3v1.3h-1.3zM52.1 47.4h1.3v1.3h-1.3zM63.8 44.0h1.6v1.6h-1.6zM64.2 43.6h1.9v1.9h-1.9zM76.7 46.2h1.9v1.9h-1.9zM83.7 45.6h1.3v1.3h-1.3zM5.5 47.7h2.2v2.2h-2.2zM24.3 51.1h1.9v1.9h-1.9zM59.2 50.7h1.9v1.9h-1.9zM60.0 48.2h2.2v2.2h-2.2zM65.5 47.9h2.2v2.2h-2.2zM76.0 50.7h1.9v1.9h-1.9zM79.2 51.2h1.6v1.6h-1.6zM82.9 49.3h1.9v1.9h-1.9zM2.2 53.0h1.3v1.3h-1.3zM3.2 54.6h2.2v2.2h-2.2zM7.7 53.8h1.6v1.6h-1.6zM22.2 53.2h1.3v1.3h-1.3zM38.2 54.6h1.9v1.9h-1.9zM45.4 53.3h1.6v1.6h-1.6zM1.7 58.7h2.2v2.2h-2.2zM3.4 57.7h1.9v1.9h-1.9zM17.0 57.7h1.9v1.9h-1.9zM23.7 59.4h1.9v1.9h-1.9zM31.3 57.6h1.9v1.9h-1.9zM38.6 57.4h1.3v1.3h-1.3zM48.1 58.7h1.6v1.6h-1.6zM57.7 57.0h1.3v1.3h-1.3zM61.8 59.6h1.3v1.3h-1.3zM67.2 56.7h1.9v1.9h-1.9zM73.9 57.4h1.6v1.6h-1.6zM0.7 61.9h2.2v2.2h-2.2zM6.6 61.2h1.6v1.6h-1.6zM19.3 61.4h1.9v1.9h-1.9zM25.0 63.1h1.9v1.9h-1.9zM29.7 63.7h1.9v1.9h-1.9zM31.8 62.6h1.3v1.3h-1.3zM38.8 63.5h1.3v1.3h-1.3zM51.4 63.7h1.6v1.6h-1.6zM60.6 61.2h2.2v2.2h-2.2zM66.9 59.8h1.3v1.3h-1.3zM75.9 60.1h1.6v1.6h-1.6zM79.7 60.6h1.6v1.6h-1.6z" opacity="0.55"/><path d="M0.8 -1.1h1.6v1.6h-1.6zM4.1 0.6h1.6v1.6h-1.6zM22.1 -0.2h1.6v1.6h-1.6zM24.6 -0.1h1.6v1.6h-1.6zM32.9 1.0h1.9v1.9h-1.9zM42.3 0.7h1.6v1.6h-1.6zM45.0 2.1h1.6v1.6h-1.6zM51.0 1.9h2.2v2.2h-2.2zM55.2 -1.0h1.9v1.9h-1.9zM61.9 -1.7h1.6v1.6h-1.6zM64.3 1.4h1.3v1.3h-1.3zM69.0 0.1h1.6v1.6h-1.6zM81.2 -1.4h1.6v1.6h-1.6zM17.4 6.1h1.6v1.6h-1.6zM20.4 5.4h1.3v1.3h-1.3zM28.0 6.4h1.6v1.6h-1.6zM35.5 4.6h1.6v1.6h-1.6zM41.3 4.6h1.6v1.6h-1.6zM43.8 5.2h1.6v1.6h-1.6zM62.8 3.5h1.9v1.9h-1.9zM15.8 6.8h1.9v1.9h-1.9zM41.3 8.5h1.3v1.3h-1.3zM68.3 8.6h1.3v1.3h-1.3zM73.8 6.6h1.3v1.3h-1.3zM78.7 8.7h1.9v1.9h-1.9zM82.9 10.1h1.6v1.6h-1.6zM5.0 11.3h1.6v1.6h-1.6zM10.5 11.2h1.9v1.9h-1.9zM14.0 12.6h1.3v1.3h-1.3zM37.4 11.1h2.2v2.2h-2.2zM48.2 11.9h1.3v1.3h-1.3zM57.0 14.5h2.2v2.2h-2.2zM65.2 13.6h1.6v1.6h-1.6zM73.5 13.1h1.9v1.9h-1.9zM33.0 17.0h2.2v2.2h-2.2zM41.1 18.4h2.2v2.2h-2.2zM48.1 16.3h1.3v1.3h-1.3zM64.8 18.7h1.6v1.6h-1.6zM69.7 17.1h1.9v1.9h-1.9zM5.4 21.4h1.3v1.3h-1.3zM7.7 19.4h1.6v1.6h-1.6zM17.3 21.8h1.9v1.9h-1.9zM19.5 22.7h1.9v1.9h-1.9zM23.9 20.1h1.6v1.6h-1.6zM29.8 22.0h1.3v1.3h-1.3zM41.6 21.8h2.2v2.2h-2.2zM61.0 22.8h1.9v1.9h-1.9zM74.1 21.2h2.2v2.2h-2.2zM76.7 20.4h1.3v1.3h-1.3zM83.3 19.1h2.2v2.2h-2.2zM-0.8 24.4h1.9v1.9h-1.9zM70.3 26.1h1.9v1.9h-1.9zM75.9 22.9h1.9v1.9h-1.9zM76.9 25.9h1.6v1.6h-1.6zM2.7 30.9h2.2v2.2h-2.2zM10.8 29.4h1.3v1.3h-1.3zM21.6 30.7h1.3v1.3h-1.3zM32.9 30.1h1.3v1.3h-1.3zM43.2 30.8h2.2v2.2h-2.2zM44.5 29.2h2.2v2.2h-2.2zM58.1 27.1h1.3v1.3h-1.3zM62.0 27.2h1.3v1.3h-1.3zM67.4 31.0h1.3v1.3h-1.3zM72.8 27.5h2.2v2.2h-2.2zM1.1 34.5h1.9v1.9h-1.9zM4.7 32.0h1.9v1.9h-1.9zM9.6 34.0h2.2v2.2h-2.2zM12.6 32.2h1.6v1.6h-1.6zM16.7 31.4h2.2v2.2h-2.2zM25.3 34.5h1.6v1.6h-1.6zM32.8 34.2h1.9v1.9h-1.9zM41.4 32.5h2.2v2.2h-2.2zM43.8 32.8h2.2v2.2h-2.2zM63.1 31.7h1.3v1.3h-1.3zM74.4 31.7h1.3v1.3h-1.3zM3.7 37.9h1.3v1.3h-1.3zM12.6 37.0h1.9v1.9h-1.9zM38.7 36.9h1.3v1.3h-1.3zM48.6 35.2h1.6v1.6h-1.6zM56.1 37.1h1.6v1.6h-1.6zM60.9 37.9h1.9v1.9h-1.9zM77.9 36.8h1.3v1.3h-1.3zM5.6 41.8h1.3v1.3h-1.3zM30.3 41.9h1.6v1.6h-1.6zM31.1 43.2h2.2v2.2h-2.2zM36.8 41.9h1.6v1.6h-1.6zM43.2 39.7h1.9v1.9h-1.9zM45.8 42.6h2.2v2.2h-2.2zM55.7 43.1h1.6v1.6h-1.6zM74.9 40.1h1.9v1.9h-1.9zM77.3 41.0h1.6v1.6h-1.6zM81.5 39.6h1.6v1.6h-1.6zM1.2 45.3h1.9v1.9h-1.9zM6.5 47.0h1.3v1.3h-1.3zM14.8 46.1h1.6v1.6h-1.6zM25.0 44.8h1.3v1.3h-1.3zM30.2 43.8h1.6v1.6h-1.6zM38.2 46.3h1.3v1.3h-1.3zM40.9 46.9h2.2v2.2h-2.2zM69.9 45.9h1.3v1.3h-1.3zM76.0 44.0h2.2v2.2h-2.2zM-1.0 50.5h1.9v1.9h-1.9zM14.4 49.0h1.9v1.9h-1.9zM15.7 50.0h2.2v2.2h-2.2zM29.1 51.3h1.6v1.6h-1.6zM32.7 49.1h1.6v1.6h-1.6zM39.6 50.6h1.9v1.9h-1.9zM44.2 50.9h1.9v1.9h-1.9zM50.2 50.1h1.3v1.3h-1.3zM54.6 49.4h1.3v1.3h-1.3zM69.7 48.8h1.3v1.3h-1.3zM24.9 55.1h1.6v1.6h-1.6zM28.3 55.6h1.6v1.6h-1.6zM31.4 52.3h1.6v1.6h-1.6zM39.6 54.3h1.6v1.6h-1.6zM48.6 51.7h2.2v2.2h-2.2zM54.1 55.4h1.6v1.6h-1.6zM58.1 51.9h1.9v1.9h-1.9zM60.6 55.6h2.2v2.2h-2.2zM71.6 52.1h1.6v1.6h-1.6zM73.4 54.0h2.2v2.2h-2.2zM77.6 51.7h1.6v1.6h-1.6zM83.6 54.5h1.3v1.3h-1.3zM7.5 57.0h1.9v1.9h-1.9zM11.3 57.1h1.6v1.6h-1.6zM20.2 58.8h1.9v1.9h-1.9zM28.5 56.2h1.9v1.9h-1.9zM42.3 56.8h2.2v2.2h-2.2zM55.3 59.7h1.9v1.9h-1.9zM79.3 56.6h1.6v1.6h-1.6zM81.6 57.2h1.9v1.9h-1.9zM6.4 62.2h1.9v1.9h-1.9zM14.3 62.7h1.6v1.6h-1.6zM18.3 62.5h1.9v1.9h-1.9zM44.6 62.7h1.3v1.3h-1.3zM54.4 60.2h1.9v1.9h-1.9zM56.4 59.9h1.6v1.6h-1.6zM71.5 60.4h1.3v1.3h-1.3zM81.0 63.4h1.3v1.3h-1.3z" opacity="0.9"/></g>
<g id="gp2"><path d="M63.1 39.7h1.5v1.5h-1.5zM72.1 12.1h1.5v1.5h-1.5zM80.1 26.3h1.5v1.5h-1.5zM3.0 32.5h1.2v1.2h-1.2zM19.6 38.7h1.8v1.8h-1.8zM43.2 53.4h1.5v1.5h-1.5zM39.3 26.2h1.8v1.8h-1.8zM59.1 43.5h1.2v1.2h-1.2zM43.1 46.3h1.5v1.5h-1.5zM39.0 53.0h1.5v1.5h-1.5zM80.0 57.2h1.2v1.2h-1.2zM71.8 47.4h1.2v1.2h-1.2zM31.4 0.7h1.2v1.2h-1.2zM75.6 7.7h1.2v1.2h-1.2zM72.6 42.4h1.8v1.8h-1.8zM16.4 60.5h1.5v1.5h-1.5zM73.9 21.6h1.5v1.5h-1.5zM24.1 53.2h1.2v1.2h-1.2zM80.5 47.3h1.8v1.8h-1.8zM16.1 23.6h1.8v1.8h-1.8zM63.0 21.3h1.5v1.5h-1.5zM13.1 34.2h1.5v1.5h-1.5zM73.2 6.8h1.2v1.2h-1.2zM48.5 0.9h1.8v1.8h-1.8zM80.1 24.0h1.5v1.5h-1.5zM8.7 56.5h1.2v1.2h-1.2zM20.8 36.6h1.5v1.5h-1.5zM79.2 18.6h1.8v1.8h-1.8zM53.8 54.6h1.8v1.8h-1.8zM15.3 34.3h1.2v1.2h-1.2zM36.3 54.0h1.2v1.2h-1.2zM28.7 40.0h1.5v1.5h-1.5zM61.7 8.4h1.5v1.5h-1.5zM8.4 34.8h1.2v1.2h-1.2zM52.6 54.2h1.8v1.8h-1.8zM71.2 5.4h1.5v1.5h-1.5zM0.5 12.0h1.8v1.8h-1.8zM55.7 5.3h1.5v1.5h-1.5zM38.6 2.2h1.8v1.8h-1.8zM21.0 26.3h1.2v1.2h-1.2zM64.9 14.4h1.8v1.8h-1.8zM79.8 57.9h1.2v1.2h-1.2zM6.0 27.9h1.8v1.8h-1.8zM65.2 5.1h1.2v1.2h-1.2zM1.6 25.7h1.2v1.2h-1.2zM53.4 31.1h1.8v1.8h-1.8zM49.2 39.5h1.5v1.5h-1.5zM46.6 30.0h1.5v1.5h-1.5zM25.7 15.4h1.2v1.2h-1.2zM49.8 33.0h1.8v1.8h-1.8zM37.1 23.6h1.8v1.8h-1.8zM9.8 50.5h1.2v1.2h-1.2zM52.5 18.5h1.5v1.5h-1.5zM45.3 7.4h1.8v1.8h-1.8zM57.8 54.0h1.2v1.2h-1.2zM30.3 25.7h1.5v1.5h-1.5zM12.3 59.4h1.8v1.8h-1.8zM16.6 29.1h1.5v1.5h-1.5zM80.7 45.4h1.8v1.8h-1.8zM17.8 5.1h1.5v1.5h-1.5zM56.5 39.0h1.2v1.2h-1.2zM67.1 18.5h1.2v1.2h-1.2zM75.8 27.2h1.8v1.8h-1.8zM3.7 21.1h1.5v1.5h-1.5zM27.9 8.6h1.2v1.2h-1.2zM60.3 51.9h1.2v1.2h-1.2zM1.8 18.5h1.8v1.8h-1.8zM33.5 8.6h1.2v1.2h-1.2zM31.9 40.5h1.5v1.5h-1.5zM30.3 41.7h1.2v1.2h-1.2zM77.8 16.3h1.5v1.5h-1.5zM26.9 42.7h1.5v1.5h-1.5zM66.2 41.3h1.2v1.2h-1.2zM34.1 43.3h1.5v1.5h-1.5zM37.3 38.8h1.2v1.2h-1.2zM23.6 52.3h1.8v1.8h-1.8zM42.8 27.7h1.2v1.2h-1.2zM75.5 33.4h1.5v1.5h-1.5zM27.8 13.3h1.2v1.2h-1.2zM43.4 44.0h1.8v1.8h-1.8zM19.5 19.1h1.5v1.5h-1.5zM51.5 10.3h1.5v1.5h-1.5zM49.0 47.8h1.5v1.5h-1.5zM35.8 59.4h1.8v1.8h-1.8zM22.5 32.9h1.2v1.2h-1.2zM61.8 22.7h1.8v1.8h-1.8zM66.1 43.4h1.2v1.2h-1.2zM80.0 52.0h1.8v1.8h-1.8zM14.5 2.7h1.2v1.2h-1.2zM34.7 15.9h1.2v1.2h-1.2zM0.4 58.3h1.2v1.2h-1.2zM80.8 5.6h1.2v1.2h-1.2zM66.0 49.8h1.8v1.8h-1.8zM26.1 21.1h1.5v1.5h-1.5zM16.8 16.2h1.2v1.2h-1.2zM60.2 55.0h1.8v1.8h-1.8zM59.4 3.8h1.5v1.5h-1.5zM45.1 50.2h1.2v1.2h-1.2zM42.1 51.5h1.2v1.2h-1.2zM29.9 53.8h1.5v1.5h-1.5zM1.4 9.3h1.2v1.2h-1.2zM11.8 61.3h1.2v1.2h-1.2zM72.8 51.6h1.8v1.8h-1.8zM49.9 15.7h1.5v1.5h-1.5zM24.7 29.8h1.2v1.2h-1.2zM2.5 58.3h1.8v1.8h-1.8zM17.3 30.0h1.2v1.2h-1.2zM36.6 59.0h1.8v1.8h-1.8zM75.3 26.4h1.5v1.5h-1.5zM39.3 38.5h1.2v1.2h-1.2zM32.1 16.9h1.8v1.8h-1.8zM72.8 46.7h1.5v1.5h-1.5zM70.9 2.7h1.2v1.2h-1.2zM22.9 40.9h1.5v1.5h-1.5zM14.6 14.3h1.8v1.8h-1.8zM58.6 3.9h1.5v1.5h-1.5zM71.2 1.6h1.2v1.2h-1.2zM6.0 15.7h1.5v1.5h-1.5zM78.6 60.8h1.5v1.5h-1.5zM42.5 61.3h1.2v1.2h-1.2zM34.6 39.9h1.2v1.2h-1.2zM1.4 49.7h1.5v1.5h-1.5zM19.8 14.6h1.8v1.8h-1.8zM12.1 31.4h1.5v1.5h-1.5zM64.9 3.2h1.5v1.5h-1.5zM65.9 38.9h1.2v1.2h-1.2zM76.0 21.6h1.5v1.5h-1.5zM13.0 44.8h1.2v1.2h-1.2zM74.4 34.1h1.2v1.2h-1.2zM47.9 40.3h1.8v1.8h-1.8zM81.9 56.8h1.5v1.5h-1.5zM15.7 16.3h1.2v1.2h-1.2zM66.8 57.5h1.5v1.5h-1.5zM70.1 23.6h1.2v1.2h-1.2zM36.2 57.9h1.8v1.8h-1.8zM20.4 41.2h1.5v1.5h-1.5zM55.9 1.8h1.8v1.8h-1.8zM67.5 38.4h1.5v1.5h-1.5zM39.1 19.1h1.5v1.5h-1.5zM35.6 33.6h1.8v1.8h-1.8zM38.7 26.0h1.2v1.2h-1.2zM77.5 16.7h1.5v1.5h-1.5zM31.7 23.7h1.8v1.8h-1.8zM78.1 53.0h1.2v1.2h-1.2zM62.8 44.8h1.8v1.8h-1.8zM71.5 25.6h1.2v1.2h-1.2zM28.4 38.9h1.5v1.5h-1.5zM59.4 7.1h1.8v1.8h-1.8zM64.9 18.0h1.5v1.5h-1.5zM19.3 3.6h1.8v1.8h-1.8zM17.8 53.7h1.8v1.8h-1.8zM53.3 47.0h1.5v1.5h-1.5zM8.8 9.9h1.5v1.5h-1.5zM19.0 56.7h1.2v1.2h-1.2zM58.6 35.3h1.5v1.5h-1.5zM81.9 8.2h1.5v1.5h-1.5zM40.2 13.4h1.8v1.8h-1.8zM65.9 15.9h1.5v1.5h-1.5zM55.0 61.4h1.2v1.2h-1.2zM42.4 42.4h1.5v1.5h-1.5zM73.1 5.7h1.8v1.8h-1.8zM32.9 44.2h1.2v1.2h-1.2zM55.3 36.8h1.8v1.8h-1.8zM52.9 45.8h1.8v1.8h-1.8zM46.7 1.4h1.8v1.8h-1.8zM42.6 35.1h1.2v1.2h-1.2zM36.9 43.1h1.8v1.8h-1.8zM40.1 56.5h1.5v1.5h-1.5zM3.5 15.1h1.5v1.5h-1.5zM24.7 36.8h1.8v1.8h-1.8zM26.7 13.9h1.8v1.8h-1.8zM15.7 12.5h1.5v1.5h-1.5zM13.9 26.6h1.2v1.2h-1.2zM53.9 61.1h1.2v1.2h-1.2zM49.9 4.4h1.5v1.5h-1.5zM30.0 47.4h1.5v1.5h-1.5zM80.9 6.0h1.5v1.5h-1.5zM82.0 45.3h1.5v1.5h-1.5zM15.4 47.6h1.2v1.2h-1.2zM13.1 59.9h1.8v1.8h-1.8zM63.7 43.9h1.5v1.5h-1.5zM50.3 13.8h1.5v1.5h-1.5zM72.3 53.9h1.2v1.2h-1.2zM76.6 31.6h1.8v1.8h-1.8zM1.3 12.0h1.5v1.5h-1.5zM1.4 25.2h1.8v1.8h-1.8zM71.2 61.3h1.8v1.8h-1.8zM41.0 34.1h1.2v1.2h-1.2zM4.0 23.2h1.8v1.8h-1.8zM23.0 36.1h1.8v1.8h-1.8zM37.6 21.1h1.2v1.2h-1.2zM51.2 18.6h1.8v1.8h-1.8zM55.3 49.1h1.8v1.8h-1.8zM81.7 28.9h1.2v1.2h-1.2zM59.7 41.6h1.8v1.8h-1.8zM1.4 7.3h1.8v1.8h-1.8zM55.4 37.7h1.8v1.8h-1.8zM38.8 49.0h1.8v1.8h-1.8zM58.2 15.2h1.5v1.5h-1.5zM6.2 54.6h1.2v1.2h-1.2zM63.9 14.0h1.2v1.2h-1.2zM64.9 45.0h1.8v1.8h-1.8zM78.6 50.1h1.2v1.2h-1.2zM2.6 21.6h1.2v1.2h-1.2zM15.9 52.1h1.5v1.5h-1.5zM48.7 14.3h1.5v1.5h-1.5zM9.8 2.9h1.5v1.5h-1.5zM71.4 58.8h1.8v1.8h-1.8zM33.0 48.7h1.5v1.5h-1.5zM12.2 15.2h1.8v1.8h-1.8zM64.5 16.1h1.5v1.5h-1.5zM26.7 3.9h1.2v1.2h-1.2zM4.3 22.2h1.5v1.5h-1.5zM61.5 19.0h1.8v1.8h-1.8zM3.8 49.7h1.5v1.5h-1.5zM4.5 50.4h1.8v1.8h-1.8zM75.7 52.6h1.2v1.2h-1.2zM79.7 47.6h1.2v1.2h-1.2zM55.8 55.5h1.2v1.2h-1.2zM35.3 17.4h1.5v1.5h-1.5zM40.5 56.3h1.8v1.8h-1.8zM21.0 28.8h1.2v1.2h-1.2zM35.6 29.3h1.8v1.8h-1.8zM66.8 21.3h1.5v1.5h-1.5zM36.8 54.7h1.2v1.2h-1.2zM28.1 33.2h1.5v1.5h-1.5zM66.7 35.8h1.8v1.8h-1.8zM26.7 7.3h1.5v1.5h-1.5zM66.5 39.8h1.8v1.8h-1.8zM12.4 58.2h1.8v1.8h-1.8zM49.2 4.1h1.5v1.5h-1.5zM75.1 2.3h1.5v1.5h-1.5zM53.0 58.9h1.8v1.8h-1.8zM43.3 33.4h1.2v1.2h-1.2zM0.1 41.0h1.8v1.8h-1.8zM16.4 38.6h1.8v1.8h-1.8zM53.6 50.2h1.5v1.5h-1.5zM6.6 56.9h1.5v1.5h-1.5zM36.5 45.1h1.8v1.8h-1.8zM1.3 11.4h1.5v1.5h-1.5z" opacity="0.45"/><path d="M32.7 60.4h1.9v1.9h-1.9zM48.2 18.5h1.3v1.3h-1.3zM12.9 2.8h1.3v1.3h-1.3zM81.5 32.1h1.9v1.9h-1.9zM72.7 47.6h1.6v1.6h-1.6zM23.8 4.3h1.3v1.3h-1.3zM13.2 28.7h1.3v1.3h-1.3zM23.0 20.1h1.9v1.9h-1.9zM42.1 18.1h1.9v1.9h-1.9zM43.3 35.9h1.6v1.6h-1.6zM46.2 6.1h1.9v1.9h-1.9zM78.9 13.1h1.9v1.9h-1.9zM48.7 58.0h1.9v1.9h-1.9zM72.6 49.4h1.3v1.3h-1.3zM7.3 59.0h1.3v1.3h-1.3zM67.9 29.8h1.3v1.3h-1.3zM48.8 11.8h1.6v1.6h-1.6zM19.7 54.0h1.9v1.9h-1.9zM9.8 59.8h1.9v1.9h-1.9zM22.5 15.4h1.3v1.3h-1.3zM16.7 49.5h1.9v1.9h-1.9zM22.6 10.8h1.3v1.3h-1.3zM25.4 60.7h1.9v1.9h-1.9zM38.7 57.0h1.3v1.3h-1.3zM45.2 25.9h1.3v1.3h-1.3zM9.3 24.6h1.9v1.9h-1.9zM19.8 22.3h1.9v1.9h-1.9zM78.4 6.3h1.6v1.6h-1.6zM65.3 48.4h1.6v1.6h-1.6zM71.9 5.3h1.6v1.6h-1.6zM41.1 32.4h1.3v1.3h-1.3zM3.7 36.3h1.9v1.9h-1.9zM0.3 24.6h1.3v1.3h-1.3zM27.8 11.4h1.9v1.9h-1.9zM17.4 55.6h1.3v1.3h-1.3zM69.2 45.2h1.3v1.3h-1.3zM5.6 13.3h1.3v1.3h-1.3zM66.4 38.5h1.6v1.6h-1.6zM59.7 39.9h1.3v1.3h-1.3zM50.5 59.9h1.9v1.9h-1.9zM53.1 40.1h1.9v1.9h-1.9zM20.9 53.8h1.9v1.9h-1.9zM37.3 48.5h1.6v1.6h-1.6zM22.6 2.4h1.6v1.6h-1.6zM47.0 27.5h1.6v1.6h-1.6zM50.9 5.2h1.9v1.9h-1.9zM53.8 44.6h1.9v1.9h-1.9zM11.3 7.1h1.6v1.6h-1.6zM79.0 39.6h1.9v1.9h-1.9zM47.1 37.0h1.3v1.3h-1.3zM5.9 46.8h1.3v1.3h-1.3zM7.9 10.2h1.3v1.3h-1.3zM72.5 8.9h1.9v1.9h-1.9zM6.1 61.3h1.6v1.6h-1.6zM21.4 19.5h1.9v1.9h-1.9zM26.7 27.9h1.6v1.6h-1.6zM27.5 41.1h1.3v1.3h-1.3zM41.1 17.5h1.6v1.6h-1.6zM72.9 13.3h1.3v1.3h-1.3zM10.3 52.7h1.9v1.9h-1.9zM58.2 24.0h1.3v1.3h-1.3zM23.0 42.7h1.3v1.3h-1.3zM62.7 57.4h1.6v1.6h-1.6zM57.3 16.1h1.6v1.6h-1.6zM29.2 60.4h1.9v1.9h-1.9zM54.0 3.6h1.3v1.3h-1.3zM59.3 16.5h1.6v1.6h-1.6zM4.7 61.1h1.3v1.3h-1.3zM57.6 0.0h1.3v1.3h-1.3zM46.1 57.0h1.3v1.3h-1.3zM57.7 44.4h1.3v1.3h-1.3zM18.7 24.9h1.3v1.3h-1.3zM20.8 39.0h1.3v1.3h-1.3zM40.1 29.6h1.3v1.3h-1.3zM8.5 46.0h1.6v1.6h-1.6zM74.7 36.3h1.6v1.6h-1.6zM6.3 17.4h1.3v1.3h-1.3zM60.0 38.1h1.3v1.3h-1.3zM7.4 37.8h1.9v1.9h-1.9zM38.6 37.3h1.6v1.6h-1.6zM23.1 31.5h1.6v1.6h-1.6zM77.4 16.8h1.3v1.3h-1.3zM32.9 16.8h1.9v1.9h-1.9zM8.3 30.0h1.6v1.6h-1.6zM52.9 46.7h1.6v1.6h-1.6zM3.1 8.7h1.6v1.6h-1.6zM36.5 3.1h1.6v1.6h-1.6zM51.6 10.0h1.6v1.6h-1.6zM68.5 37.2h1.6v1.6h-1.6zM74.0 6.1h1.6v1.6h-1.6zM49.7 18.6h1.3v1.3h-1.3zM54.6 19.6h1.3v1.3h-1.3zM52.7 8.6h1.6v1.6h-1.6zM62.2 60.8h1.6v1.6h-1.6zM34.7 43.9h1.6v1.6h-1.6zM16.5 47.3h1.6v1.6h-1.6zM0.2 28.7h1.9v1.9h-1.9zM10.4 18.0h1.3v1.3h-1.3zM27.3 36.5h1.3v1.3h-1.3zM59.5 53.7h1.9v1.9h-1.9zM74.9 36.0h1.3v1.3h-1.3zM12.9 15.3h1.6v1.6h-1.6zM20.8 58.4h1.9v1.9h-1.9zM65.3 45.3h1.3v1.3h-1.3zM2.2 26.8h1.3v1.3h-1.3zM77.7 16.0h1.3v1.3h-1.3zM35.6 57.2h1.6v1.6h-1.6zM69.9 36.7h1.9v1.9h-1.9zM19.7 55.3h1.3v1.3h-1.3zM49.1 46.4h1.9v1.9h-1.9zM20.5 12.0h1.9v1.9h-1.9zM24.9 25.3h1.9v1.9h-1.9zM34.2 32.1h1.9v1.9h-1.9zM18.8 40.0h1.3v1.3h-1.3zM72.4 18.4h1.6v1.6h-1.6zM26.6 8.0h1.3v1.3h-1.3zM54.5 10.1h1.9v1.9h-1.9zM51.4 59.0h1.6v1.6h-1.6zM11.8 56.0h1.3v1.3h-1.3zM46.7 54.0h1.9v1.9h-1.9zM55.4 7.7h1.9v1.9h-1.9zM75.5 39.6h1.6v1.6h-1.6zM17.9 30.9h1.9v1.9h-1.9zM5.5 44.7h1.6v1.6h-1.6zM0.4 16.3h1.6v1.6h-1.6zM7.8 25.8h1.6v1.6h-1.6zM42.2 58.1h1.9v1.9h-1.9zM47.8 58.3h1.6v1.6h-1.6zM24.3 39.0h1.6v1.6h-1.6zM80.6 60.1h1.3v1.3h-1.3zM0.7 17.7h1.6v1.6h-1.6zM29.6 58.7h1.6v1.6h-1.6zM24.0 47.3h1.3v1.3h-1.3zM55.7 56.9h1.3v1.3h-1.3zM21.7 25.2h1.9v1.9h-1.9zM14.8 18.4h1.6v1.6h-1.6zM17.1 59.2h1.6v1.6h-1.6zM30.5 49.7h1.6v1.6h-1.6zM25.8 23.8h1.9v1.9h-1.9zM37.0 47.2h1.6v1.6h-1.6zM44.7 20.3h1.6v1.6h-1.6zM0.2 30.4h1.9v1.9h-1.9zM51.6 47.5h1.9v1.9h-1.9zM23.8 34.1h1.9v1.9h-1.9zM70.5 59.1h1.9v1.9h-1.9zM7.2 45.9h1.3v1.3h-1.3zM46.7 31.2h1.3v1.3h-1.3zM80.9 33.6h1.3v1.3h-1.3zM69.3 44.9h1.6v1.6h-1.6zM55.0 42.5h1.6v1.6h-1.6zM34.4 15.5h1.3v1.3h-1.3zM19.3 5.3h1.9v1.9h-1.9zM29.5 37.1h1.9v1.9h-1.9zM70.7 15.7h1.9v1.9h-1.9zM40.9 26.2h1.6v1.6h-1.6zM51.3 35.8h1.9v1.9h-1.9zM12.7 28.3h1.3v1.3h-1.3zM53.0 19.1h1.9v1.9h-1.9zM74.1 22.0h1.3v1.3h-1.3zM18.2 28.4h1.3v1.3h-1.3zM63.4 5.5h1.9v1.9h-1.9zM72.6 30.7h1.6v1.6h-1.6zM0.2 35.8h1.3v1.3h-1.3zM34.5 15.2h1.3v1.3h-1.3zM68.0 49.9h1.9v1.9h-1.9zM70.0 15.7h1.3v1.3h-1.3zM68.8 6.1h1.3v1.3h-1.3zM60.5 3.1h1.3v1.3h-1.3zM76.3 6.8h1.3v1.3h-1.3zM8.6 52.4h1.9v1.9h-1.9zM56.2 55.1h1.6v1.6h-1.6zM56.0 37.5h1.3v1.3h-1.3zM2.9 22.5h1.6v1.6h-1.6zM28.5 3.9h1.6v1.6h-1.6zM2.6 21.8h1.6v1.6h-1.6zM13.3 48.2h1.6v1.6h-1.6zM40.9 50.4h1.3v1.3h-1.3zM70.1 4.3h1.6v1.6h-1.6zM7.1 35.9h1.6v1.6h-1.6zM67.0 5.4h1.9v1.9h-1.9zM5.6 11.9h1.6v1.6h-1.6zM14.5 41.4h1.9v1.9h-1.9zM45.3 11.5h1.6v1.6h-1.6zM20.6 38.9h1.9v1.9h-1.9zM0.3 44.3h1.3v1.3h-1.3zM15.4 12.8h1.3v1.3h-1.3zM14.5 20.5h1.9v1.9h-1.9zM13.0 47.9h1.6v1.6h-1.6zM41.9 27.6h1.6v1.6h-1.6zM67.8 42.4h1.6v1.6h-1.6zM39.1 52.0h1.3v1.3h-1.3zM7.2 43.0h1.9v1.9h-1.9zM25.5 54.8h1.3v1.3h-1.3zM21.0 13.7h1.6v1.6h-1.6zM19.9 11.7h1.3v1.3h-1.3zM1.9 4.0h1.3v1.3h-1.3zM79.5 43.6h1.6v1.6h-1.6zM73.3 6.5h1.9v1.9h-1.9zM12.6 50.9h1.3v1.3h-1.3zM34.6 53.7h1.9v1.9h-1.9z" opacity="0.85"/></g>
</defs>
<rect x="33.80" y="878.00" width="84.6" height="63.5" fill="#060606"/>
<svg x="33.80" y="878.00" width="84.6" height="63.5" overflow="hidden"><g filter="url(#mb)">
<use href="#gp0" fill="#22944a" opacity="0.72"/>
</g></svg>
<rect x="108.40" y="934.50" width="3.5" height="1.4" fill="#999"/>
<rect x="33.80" y="943.20" width="84.6" height="63.5" fill="#060606"/>
<svg x="33.80" y="943.20" width="84.6" height="63.5" overflow="hidden"><g filter="url(#mb)">
<use href="#dp0" fill="#2a4fd6"/>
</g></svg>
<rect x="108.40" y="999.70" width="3.5" height="1.4" fill="#999"/>
<rect x="33.80" y="1008.30" width="84.6" height="63.5" fill="#060606"/>
<svg x="33.80" y="1008.30" width="84.6" height="63.5" overflow="hidden"><g filter="url(#mb)">
<use href="#dp1" fill="#284cd0"/>
<use href="#gp2" fill="#2aa050" opacity="0.12"/>
</g></svg>
<rect x="108.40" y="1064.80" width="3.5" height="1.4" fill="#999"/>
<rect x="120.20" y="878.00" width="84.6" height="63.5" fill="#060606"/>
<svg x="120.20" y="878.00" width="84.6" height="63.5" overflow="hidden"><g filter="url(#mb)">
<use href="#gp1" fill="#22944a" opacity="0.15"/>
</g></svg>
<rect x="194.80" y="934.50" width="3.5" height="1.4" fill="#999"/>
<rect x="120.20" y="943.20" width="84.6" height="63.5" fill="#060606"/>
<svg x="120.20" y="943.20" width="84.6" height="63.5" overflow="hidden"><g filter="url(#mb)">
<use href="#dp1" fill="#2a4fd6"/>
</g></svg>
<rect x="194.80" y="999.70" width="3.5" height="1.4" fill="#999"/>
<rect x="120.20" y="1008.30" width="84.6" height="63.5" fill="#060606"/>
<svg x="120.20" y="1008.30" width="84.6" height="63.5" overflow="hidden"><g filter="url(#mb)">
<use href="#dp2" fill="#284cd0"/>
<use href="#gp0" fill="#2aa050" opacity="0.03"/>
</g></svg>
<rect x="194.80" y="1064.80" width="3.5" height="1.4" fill="#999"/>
<rect x="206.60" y="878.00" width="84.6" height="63.5" fill="#060606"/>
<svg x="206.60" y="878.00" width="84.6" height="63.5" overflow="hidden"><g filter="url(#mb)">
<use href="#gp2" fill="#22944a" opacity="0.22"/>
</g></svg>
<rect x="281.20" y="934.50" width="3.5" height="1.4" fill="#999"/>
<rect x="206.60" y="943.20" width="84.6" height="63.5" fill="#060606"/>
<svg x="206.60" y="943.20" width="84.6" height="63.5" overflow="hidden"><g filter="url(#mb)">
<use href="#dp2" fill="#2a4fd6"/>
</g></svg>
<rect x="281.20" y="999.70" width="3.5" height="1.4" fill="#999"/>
<rect x="206.60" y="1008.30" width="84.6" height="63.5" fill="#060606"/>
<svg x="206.60" y="1008.30" width="84.6" height="63.5" overflow="hidden"><g filter="url(#mb)">
<use href="#dp0" fill="#284cd0"/>
<use href="#gp1" fill="#2aa050" opacity="0.04"/>
</g></svg>
<rect x="281.20" y="1064.80" width="3.5" height="1.4" fill="#999"/>
<rect x="293.00" y="878.00" width="84.6" height="63.5" fill="#060606"/>
<svg x="293.00" y="878.00" width="84.6" height="63.5" overflow="hidden"><g filter="url(#mb)">
<use href="#gp0" fill="#22944a" opacity="0.2"/>
</g></svg>
<rect x="367.60" y="934.50" width="3.5" height="1.4" fill="#999"/>
<rect x="293.00" y="943.20" width="84.6" height="63.5" fill="#060606"/>
<svg x="293.00" y="943.20" width="84.6" height="63.5" overflow="hidden"><g filter="url(#mb)">
<use href="#dp0" fill="#2a4fd6"/>
</g></svg>
<rect x="367.60" y="999.70" width="3.5" height="1.4" fill="#999"/>
<rect x="293.00" y="1008.30" width="84.6" height="63.5" fill="#060606"/>
<svg x="293.00" y="1008.30" width="84.6" height="63.5" overflow="hidden"><g filter="url(#mb)">
<use href="#dp1" fill="#284cd0"/>
<use href="#gp2" fill="#2aa050" opacity="0.03"/>
</g></svg>
<rect x="367.60" y="1064.80" width="3.5" height="1.4" fill="#999"/>
<rect x="379.40" y="878.00" width="84.6" height="63.5" fill="#060606"/>
<svg x="379.40" y="878.00" width="84.6" height="63.5" overflow="hidden"><g filter="url(#mb)">
<use href="#gp1" fill="#22944a" opacity="0.34"/>
</g></svg>
<rect x="454.00" y="934.50" width="3.5" height="1.4" fill="#999"/>
<rect x="379.40" y="943.20" width="84.6" height="63.5" fill="#060606"/>
<svg x="379.40" y="943.20" width="84.6" height="63.5" overflow="hidden"><g filter="url(#mb)">
<use href="#dp1" fill="#2a4fd6"/>
</g></svg>
<rect x="454.00" y="999.70" width="3.5" height="1.4" fill="#999"/>
<rect x="379.40" y="1008.30" width="84.6" height="63.5" fill="#060606"/>
<svg x="379.40" y="1008.30" width="84.6" height="63.5" overflow="hidden"><g filter="url(#mb)">
<use href="#dp2" fill="#284cd0"/>
<use href="#gp0" fill="#2aa050" opacity="0.04"/>
</g></svg>
<rect x="454.00" y="1064.80" width="3.5" height="1.4" fill="#999"/>
<rect x="465.80" y="878.00" width="84.6" height="63.5" fill="#060606"/>
<svg x="465.80" y="878.00" width="84.6" height="63.5" overflow="hidden"><g filter="url(#mb)">
<use href="#gp2" fill="#22944a" opacity="0.64"/>
</g></svg>
<rect x="540.40" y="934.50" width="3.5" height="1.4" fill="#999"/>
<rect x="465.80" y="943.20" width="84.6" height="63.5" fill="#060606"/>
<svg x="465.80" y="943.20" width="84.6" height="63.5" overflow="hidden"><g filter="url(#mb)">
<use href="#dp2" fill="#2a4fd6"/>
</g></svg>
<rect x="540.40" y="999.70" width="3.5" height="1.4" fill="#999"/>
<rect x="465.80" y="1008.30" width="84.6" height="63.5" fill="#060606"/>
<svg x="465.80" y="1008.30" width="84.6" height="63.5" overflow="hidden"><g filter="url(#mb)">
<use href="#dp0" fill="#284cd0"/>
<use href="#gp1" fill="#2aa050" opacity="0.12"/>
</g></svg>
<rect x="540.40" y="1064.80" width="3.5" height="1.4" fill="#999"/>
<line x1="635.60" y1="933.80" x2="635.60" y2="932.11" stroke="#000" stroke-width="1.0" />
<line x1="632.90" y1="932.11" x2="638.30" y2="932.11" stroke="#000" stroke-width="1.0" />
<rect x="630.90" y="934.40" width="9.40" height="69.70" fill="#000" stroke="#000" stroke-width="1.2"/>
<line x1="652.10" y1="968.25" x2="652.10" y2="965.22" stroke="#000" stroke-width="1.0" />
<line x1="649.40" y1="965.22" x2="654.80" y2="965.22" stroke="#000" stroke-width="1.0" />
<rect x="647.40" y="968.85" width="9.40" height="35.25" fill="#a0a0a5" stroke="#000" stroke-width="1.2"/>
<line x1="668.60" y1="969.93" x2="668.60" y2="968.95" stroke="#000" stroke-width="1.0" />
<line x1="665.90" y1="968.95" x2="671.30" y2="968.95" stroke="#000" stroke-width="1.0" />
<rect x="663.90" y="970.53" width="9.40" height="33.57" fill="#7b7b7b" stroke="#000" stroke-width="1.2"/>
<line x1="685.40" y1="981.60" x2="685.40" y2="979.21" stroke="#000" stroke-width="1.0" />
<line x1="682.70" y1="979.21" x2="688.10" y2="979.21" stroke="#000" stroke-width="1.0" />
<rect x="680.70" y="982.20" width="9.40" height="21.90" fill="#d9d9d9" stroke="#000" stroke-width="1.2"/>
<line x1="702.10" y1="968.95" x2="702.10" y2="966.28" stroke="#000" stroke-width="1.0" />
<line x1="699.40" y1="966.28" x2="704.80" y2="966.28" stroke="#000" stroke-width="1.0" />
<rect x="697.40" y="969.55" width="9.40" height="34.55" fill="#5f5f5f" stroke="#000" stroke-width="1.2"/>
<line x1="718.50" y1="945.05" x2="718.50" y2="942.94" stroke="#000" stroke-width="1.0" />
<line x1="715.80" y1="942.94" x2="721.20" y2="942.94" stroke="#000" stroke-width="1.0" />
<rect x="713.80" y="945.65" width="9.40" height="58.45" fill="#a0a0a5" stroke="#000" stroke-width="1.2"/>
<line x1="623.80" y1="898.05" x2="623.80" y2="1004.65" stroke="#000" stroke-width="1.1" />
<line x1="623.25" y1="1004.10" x2="730.30" y2="1004.10" stroke="#000" stroke-width="1.1" />
<line x1="618.80" y1="1004.10" x2="623.80" y2="1004.10" stroke="#000" stroke-width="1.1" />
<text x="618.10" y="1006.80" font-size="7.5" font-weight="bold" text-anchor="end" >0.0</text>
<line x1="618.80" y1="968.95" x2="623.80" y2="968.95" stroke="#000" stroke-width="1.1" />
<text x="618.10" y="971.65" font-size="7.5" font-weight="bold" text-anchor="end" >0.5</text>
<line x1="618.80" y1="933.80" x2="623.80" y2="933.80" stroke="#000" stroke-width="1.1" />
<text x="618.10" y="936.50" font-size="7.5" font-weight="bold" text-anchor="end" >1.0</text>
<line x1="618.80" y1="898.65" x2="623.80" y2="898.65" stroke="#000" stroke-width="1.1" />
<text x="618.10" y="901.35" font-size="7.5" font-weight="bold" text-anchor="end" >1.5</text>
<line x1="635.60" y1="1004.10" x2="635.60" y2="1009.30" stroke="#000" stroke-width="1.1" />
<line x1="652.10" y1="1004.10" x2="652.10" y2="1009.30" stroke="#000" stroke-width="1.1" />
<line x1="668.60" y1="1004.10" x2="668.60" y2="1009.30" stroke="#000" stroke-width="1.1" />
<line x1="685.40" y1="1004.10" x2="685.40" y2="1009.30" stroke="#000" stroke-width="1.1" />
<line x1="702.10" y1="1004.10" x2="702.10" y2="1009.30" stroke="#000" stroke-width="1.1" />
<line x1="718.50" y1="1004.10" x2="718.50" y2="1009.30" stroke="#000" stroke-width="1.1" />
<text x="652.30" y="962.80" font-size="7.5" text-anchor="middle" fill="#444" >##</text>
<text x="685.40" y="979.20" font-size="9" text-anchor="middle" fill="#333" >**</text>
<polygon points="714.10,940.20 716.50,936.20 718.90,940.20" fill="none" stroke="#444" stroke-width="0.8" stroke-linejoin="miter"/>
<polygon points="720.10,940.20 722.50,936.20 724.90,940.20" fill="none" stroke="#444" stroke-width="0.8" stroke-linejoin="miter"/>
<text x="0" y="0" font-size="7.8" font-weight="bold" text-anchor="middle" transform="translate(604,951.3) rotate(-90)">Normalized SIRT6 Intensity</text>
<text x="0" y="0" transform="translate(625.00,1017.90) scale(0.98,1)" font-size="7.9" font-weight="bold" text-anchor="end" >PDGF-BB</text>
<text x="0" y="0" transform="translate(626.00,1028.20) scale(0.98,1)" font-size="7.9" font-weight="bold" text-anchor="end" >mimicsNC</text>
<text x="0" y="0" transform="translate(626.00,1037.80) scale(0.98,1)" font-size="7.9" font-weight="bold" text-anchor="end" >miR-25-3p mimics</text>
<text x="0" y="0" transform="translate(626.00,1048.00) scale(0.98,1)" font-size="7.9" font-weight="bold" text-anchor="end" >inhibitor NC</text>
<text x="0" y="0" transform="translate(626.30,1057.80) scale(0.98,1)" font-size="7.9" font-weight="bold" text-anchor="end" >miR-25-3p inhibitor</text>
<rect x="634.10" y="1014.25" width="3.6" height="1.5" fill="#000"/>
<path d="M650.20 1014.25h5v1.5h-5zM651.95 1012.50h1.5v5h-1.5z" fill="#000"/>
<path d="M666.50 1014.25h5v1.5h-5zM668.25 1012.50h1.5v5h-1.5z" fill="#000"/>
<path d="M682.50 1014.25h5v1.5h-5zM684.25 1012.50h1.5v5h-1.5z" fill="#000"/>
<path d="M699.40 1014.25h5v1.5h-5zM701.15 1012.50h1.5v5h-1.5z" fill="#000"/>
<path d="M715.70 1014.25h5v1.5h-5zM717.45 1012.50h1.5v5h-1.5z" fill="#000"/>
<rect x="634.10" y="1024.65" width="3.6" height="1.5" fill="#000"/>
<rect x="650.90" y="1024.65" width="3.6" height="1.5" fill="#000"/>
<path d="M666.50 1024.65h5v1.5h-5zM668.25 1022.90h1.5v5h-1.5z" fill="#000"/>
<rect x="683.20" y="1024.65" width="3.6" height="1.5" fill="#000"/>
<rect x="700.10" y="1024.65" width="3.6" height="1.5" fill="#000"/>
<rect x="716.40" y="1024.65" width="3.6" height="1.5" fill="#000"/>
<rect x="634.10" y="1034.65" width="3.6" height="1.5" fill="#000"/>
<rect x="650.90" y="1034.65" width="3.6" height="1.5" fill="#000"/>
<rect x="667.20" y="1034.65" width="3.6" height="1.5" fill="#000"/>
<path d="M682.50 1034.65h5v1.5h-5zM684.25 1032.90h1.5v5h-1.5z" fill="#000"/>
<rect x="700.10" y="1034.65" width="3.6" height="1.5" fill="#000"/>
<rect x="716.40" y="1034.65" width="3.6" height="1.5" fill="#000"/>
<rect x="634.10" y="1044.05" width="3.6" height="1.5" fill="#000"/>
<rect x="650.90" y="1044.05" width="3.6" height="1.5" fill="#000"/>
<rect x="667.20" y="1044.05" width="3.6" height="1.5" fill="#000"/>
<rect x="683.20" y="1044.05" width="3.6" height="1.5" fill="#000"/>
<path d="M699.40 1044.05h5v1.5h-5zM701.15 1042.30h1.5v5h-1.5z" fill="#000"/>
<rect x="716.40" y="1044.05" width="3.6" height="1.5" fill="#000"/>
<rect x="634.10" y="1054.15" width="3.6" height="1.5" fill="#000"/>
<rect x="650.90" y="1054.15" width="3.6" height="1.5" fill="#000"/>
<rect x="667.20" y="1054.15" width="3.6" height="1.5" fill="#000"/>
<rect x="683.20" y="1054.15" width="3.6" height="1.5" fill="#000"/>
<rect x="700.10" y="1054.15" width="3.6" height="1.5" fill="#000"/>
<path d="M715.70 1054.15h5v1.5h-5zM717.45 1052.40h1.5v5h-1.5z" fill="#000"/>
</svg></body></html>
